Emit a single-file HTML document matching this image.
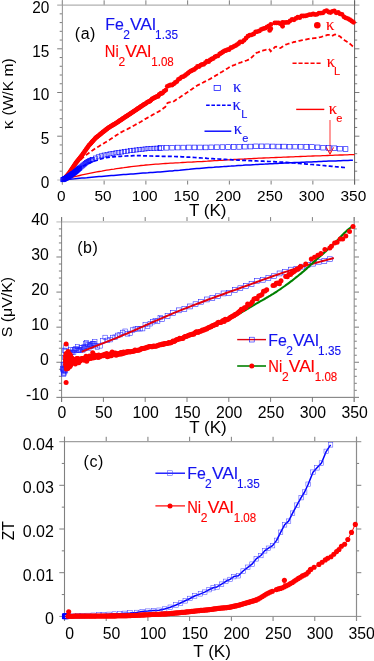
<!DOCTYPE html>
<html><head><meta charset="utf-8"><title>figure</title>
<style>
html,body{margin:0;padding:0;background:#fff;}
svg{display:block;will-change:transform}
text{font-family:"Liberation Sans",sans-serif;}
.ser{font-family:"Liberation Serif",serif;}
</style></head><body>
<svg width="374" height="661" viewBox="0 0 374 661">
<rect width="374" height="661" fill="#fff"/>
<path d="M62.40 179.9v4.6M62.40 5.1v-4.8M104.14 179.9v4.6M104.14 5.1v-4.8M145.89 179.9v4.6M145.89 5.1v-4.8M187.63 179.9v4.6M187.63 5.1v-4.8M229.37 179.9v4.6M229.37 5.1v-4.8M271.11 179.9v4.6M271.11 5.1v-4.8M312.86 179.9v4.6M312.86 5.1v-4.8M354.60 179.9v4.6M354.60 5.1v-4.8M62.4 136.20h-5.2M354.6 136.20h4.8M62.4 92.50h-5.2M354.6 92.50h4.8M62.4 48.80h-5.2M354.6 48.80h4.8M62.4 171.16h-2.7M354.6 171.16h2.6M62.4 162.42h-2.7M354.6 162.42h2.6M62.4 153.68h-2.7M354.6 153.68h2.6M62.4 144.94h-2.7M354.6 144.94h2.6M62.4 127.46h-2.7M354.6 127.46h2.6M62.4 118.72h-2.7M354.6 118.72h2.6M62.4 109.98h-2.7M354.6 109.98h2.6M62.4 101.24h-2.7M354.6 101.24h2.6M62.4 83.76h-2.7M354.6 83.76h2.6M62.4 75.02h-2.7M354.6 75.02h2.6M62.4 66.28h-2.7M354.6 66.28h2.6M62.4 57.54h-2.7M354.6 57.54h2.6M62.4 40.06h-2.7M354.6 40.06h2.6M62.4 31.32h-2.7M354.6 31.32h2.6M62.4 22.58h-2.7M354.6 22.58h2.6M62.4 13.84h-2.7M354.6 13.84h2.6" fill="none" stroke="#5a5a5a" stroke-width="0.8"/>
<path d="M57.199999999999996 5.1H359.40000000000003" fill="none" stroke="#b0b0b0" stroke-width="1.3"/>
<path d="M57.199999999999996 179.9H359.40000000000003" fill="none" stroke="#d2d2d2" stroke-width="1.5"/>
<path d="M62.4 0.2999999999999998V184.5" fill="none" stroke="#9a9a9a" stroke-width="1.1"/>
<path d="M354.6 0.2999999999999998V184.5" fill="none" stroke="#606060" stroke-width="1.0"/>
<path d="M62.4 179.9 L64.9 179.3 L67.3 178.6 L69.8 178.0 L72.2 177.4 L74.7 176.7 L77.1 176.1 L79.6 175.5 L82.0 174.9 L84.5 174.4 L87.0 173.9 L89.4 173.4 L91.9 172.9 L94.3 172.4 L96.8 171.9 L99.2 171.5 L101.7 171.1 L104.1 170.6 L106.6 170.2 L109.1 169.8 L111.5 169.4 L114.0 169.1 L116.4 168.7 L118.9 168.3 L121.3 168.0 L123.8 167.7 L126.2 167.3 L128.7 167.0 L131.2 166.7 L133.6 166.4 L136.1 166.1 L138.5 165.8 L141.0 165.5 L143.4 165.3 L145.9 165.0 L148.3 164.8 L150.8 164.6 L153.3 164.4 L155.7 164.2 L158.2 164.1 L160.6 163.9 L163.1 163.7 L165.5 163.5 L168.0 163.4 L170.4 163.2 L172.9 163.1 L175.4 162.9 L177.8 162.8 L180.3 162.7 L182.7 162.5 L185.2 162.4 L187.6 162.2 L190.1 162.1 L192.5 162.0 L195.0 161.8 L197.5 161.7 L199.9 161.6 L202.4 161.5 L204.8 161.3 L207.3 161.2 L209.7 161.0 L212.2 160.9 L214.6 160.7 L217.1 160.6 L219.5 160.4 L222.0 160.3 L224.5 160.1 L226.9 159.9 L229.4 159.8 L231.8 159.7 L234.3 159.5 L236.7 159.4 L239.2 159.2 L241.6 159.1 L244.1 159.0 L246.6 158.8 L249.0 158.7 L251.5 158.6 L253.9 158.5 L256.4 158.4 L258.8 158.2 L261.3 158.1 L263.7 158.0 L266.2 157.9 L268.7 157.8 L271.1 157.7 L273.6 157.6 L276.0 157.5 L278.5 157.4 L280.9 157.3 L283.4 157.2 L285.8 157.1 L288.3 157.0 L290.8 156.9 L293.2 156.8 L295.7 156.7 L298.1 156.6 L300.6 156.5 L303.0 156.4 L305.5 156.3 L307.9 156.2 L310.4 156.1 L312.9 156.0 L315.3 155.9 L317.8 155.9 L320.2 155.8 L322.7 155.7 L325.1 155.6 L327.6 155.5 L330.0 155.4 L332.5 155.3 L335.0 155.2 L337.4 155.1 L339.9 155.0 L342.3 155.0 L344.8 154.9 L347.2 154.8 L349.7 154.7 L352.1 154.6 L354.6 154.6" fill="none" stroke="#ff0000" stroke-width="1.3"/>
<path d="M62.4 179.9 L64.8 179.7 L67.3 179.4 L69.7 179.2 L72.2 179.0 L74.6 178.8 L77.0 178.5 L79.5 178.3 L81.9 178.1 L84.4 177.9 L86.8 177.7 L89.3 177.4 L91.7 177.2 L94.1 177.0 L96.6 176.8 L99.0 176.6 L101.5 176.4 L103.9 176.2 L106.3 176.0 L108.8 175.8 L111.2 175.6 L113.7 175.4 L116.1 175.2 L118.6 175.0 L121.0 174.8 L123.4 174.6 L125.9 174.4 L128.3 174.2 L130.8 174.0 L133.2 173.9 L135.6 173.7 L138.1 173.5 L140.5 173.3 L143.0 173.1 L145.4 172.9 L147.9 172.8 L150.3 172.6 L152.7 172.4 L155.2 172.2 L157.6 172.0 L160.1 171.9 L162.5 171.7 L164.9 171.5 L167.4 171.3 L169.8 171.1 L172.3 170.9 L174.7 170.6 L177.1 170.4 L179.6 170.2 L182.0 169.9 L184.5 169.7 L186.9 169.5 L189.4 169.3 L191.8 169.0 L194.2 168.8 L196.7 168.6 L199.1 168.4 L201.6 168.2 L204.0 168.0 L206.4 167.8 L208.9 167.6 L211.3 167.4 L213.8 167.3 L216.2 167.1 L218.7 166.9 L221.1 166.7 L223.5 166.6 L226.0 166.4 L228.4 166.2 L230.9 166.1 L233.3 165.9 L235.7 165.8 L238.2 165.6 L240.6 165.4 L243.1 165.3 L245.5 165.1 L247.9 165.0 L250.4 164.9 L252.8 164.7 L255.3 164.6 L257.7 164.4 L260.2 164.3 L262.6 164.2 L265.0 164.1 L267.5 163.9 L269.9 163.8 L272.4 163.7 L274.8 163.5 L277.2 163.4 L279.7 163.3 L282.1 163.2 L284.6 163.0 L287.0 162.9 L289.5 162.8 L291.9 162.7 L294.3 162.6 L296.8 162.5 L299.2 162.4 L301.7 162.3 L304.1 162.2 L306.5 162.1 L309.0 162.0 L311.4 161.9 L313.9 161.8 L316.3 161.7 L318.8 161.6 L321.2 161.5 L323.6 161.3 L326.1 161.2 L328.5 161.1 L331.0 161.0 L333.4 160.9 L335.8 160.9 L338.3 160.8 L340.7 160.7 L343.2 160.6 L345.6 160.5 L348.0 160.4 L350.5 160.3 L352.9 160.2" fill="none" stroke="#0000ff" stroke-width="1.5"/>
<path d="M77.4 169.4 L79.2 168.3 L81.0 167.2 L82.8 166.1 L84.6 165.2 L86.4 164.4 L88.3 163.5 L90.1 162.8 L91.9 162.0 L93.7 161.4 L95.5 160.8 L97.3 160.2 L99.1 159.6 L100.9 159.0 L102.7 158.5 L104.5 158.1 L106.3 157.7 L108.1 157.4 L109.9 157.1 L111.7 156.9 L113.5 156.8 L115.3 156.6 L117.1 156.5 L118.9 156.4 L120.7 156.3 L122.5 156.2 L124.3 156.1 L126.1 156.0 L127.9 155.9 L129.7 155.8 L131.6 155.8 L133.4 155.7 L135.2 155.7 L137.0 155.7 L138.8 155.7 L140.6 155.7 L142.4 155.8 L144.2 155.8 L146.0 155.9 L147.8 155.9 L149.6 156.0 L151.4 156.0 L153.2 156.1 L155.0 156.1 L156.8 156.2 L158.6 156.2 L160.4 156.2 L162.2 156.3 L164.0 156.3 L165.8 156.3 L167.6 156.4 L169.4 156.4 L171.2 156.4 L173.0 156.5 L174.9 156.5 L176.7 156.6 L178.5 156.6 L180.3 156.7 L182.1 156.8 L183.9 156.9 L185.7 157.0 L187.5 157.1 L189.3 157.2 L191.1 157.3 L192.9 157.4 L194.7 157.5 L196.5 157.7 L198.3 157.8 L200.1 157.9 L201.9 158.0 L203.7 158.1 L205.5 158.2 L207.3 158.4 L209.1 158.5 L210.9 158.6 L212.7 158.7 L214.5 158.8 L216.3 158.9 L218.2 159.0 L220.0 159.1 L221.8 159.2 L223.6 159.3 L225.4 159.4 L227.2 159.5 L229.0 159.6 L230.8 159.7 L232.6 159.8 L234.4 159.9 L236.2 160.0 L238.0 160.1 L239.8 160.2 L241.6 160.3 L243.4 160.3 L245.2 160.4 L247.0 160.5 L248.8 160.6 L250.6 160.7 L252.4 160.8 L254.2 160.9 L256.0 160.9 L257.8 161.0 L259.7 161.1 L261.5 161.2 L263.3 161.2 L265.1 161.3 L266.9 161.4 L268.7 161.5 L270.5 161.5 L272.3 161.6 L274.1 161.7 L275.9 161.8 L277.7 161.9 L279.5 162.0 L281.3 162.1 L283.1 162.2 L284.9 162.3 L286.7 162.4 L288.5 162.6 L290.3 162.7 L292.1 162.9 L293.9 163.0 L295.7 163.1 L297.5 163.3 L299.3 163.4 L301.1 163.6 L303.0 163.8 L304.8 163.9 L306.6 164.1 L308.4 164.2 L310.2 164.4 L312.0 164.5 L313.8 164.7 L315.6 164.8 L317.4 165.0 L319.2 165.2 L321.0 165.3 L322.8 165.5 L324.6 165.6 L326.4 165.8 L328.2 166.0 L330.0 166.1 L331.8 166.3 L333.6 166.5 L335.4 166.7 L337.2 166.8 L339.0 167.0 L340.8 167.2 L342.6 167.3 L344.4 167.5 L346.3 167.7" fill="none" stroke="#0000ff" stroke-width="1.7" stroke-dasharray="4.0 2.2"/>
<path d="M80.8 159.8 L81.8 158.7 L82.9 157.7 L83.9 156.6 L85.0 155.7 L86.0 155.0 L87.1 154.2 L88.2 153.5 L89.2 152.7 L90.3 152.0 L91.3 151.2 L92.4 150.5 L93.4 149.7 L94.5 149.0 L95.5 148.2 L96.6 147.6 L97.7 147.0 L98.7 146.4 L99.8 145.7 L100.8 145.1 L101.9 144.5 L102.9 143.9 L104.0 143.2 L105.0 142.6 L106.1 141.9 L107.2 141.2 L108.2 140.6 L109.3 139.9 L110.3 139.3 L111.4 138.6 L112.4 137.9 L113.5 137.2 L114.5 136.5 L115.6 135.8 L116.6 135.1 L117.7 134.4 L118.8 133.7 L119.8 133.0 L120.9 132.4 L121.9 131.9 L123.0 131.3 L124.0 130.8 L125.1 130.3 L126.1 129.7 L127.2 129.2 L128.3 128.6 L129.3 128.1 L130.4 127.5 L131.4 127.0 L132.5 126.4 L133.5 125.8 L134.6 125.2 L135.6 124.6 L136.7 124.0 L137.8 123.4 L138.8 122.9 L139.9 122.3 L140.9 121.7 L142.0 121.0 L143.0 120.4 L144.1 119.8 L145.1 119.1 L146.2 118.5 L147.3 117.9 L148.3 117.2 L149.4 116.6 L150.4 116.0 L151.5 115.5 L152.5 114.9 L153.6 114.3 L154.6 113.7 L155.7 113.1 L156.8 112.5 L157.8 112.0 L158.9 111.4 L159.9 110.8 L161.0 110.1 L162.0 109.3 L163.1 108.5 L164.1 107.8 L165.2 107.1 L166.2 105.6 L167.3 103.2 L168.4 102.5 L169.4 102.3 L170.5 102.2 L171.5 102.1 L172.6 102.0 L173.6 101.5 L174.7 100.8 L175.7 100.0 L176.8 99.3 L177.9 98.6 L178.9 97.9 L180.0 97.2 L181.0 96.5 L182.1 95.8 L183.1 95.1 L184.2 94.4 L185.2 93.7 L186.3 93.0 L187.4 92.3 L188.4 91.6 L189.5 90.9 L190.5 90.1 L191.6 89.4 L192.6 88.6 L193.7 87.9 L194.7 87.1 L195.8 86.4 L196.9 85.7 L197.9 85.1 L199.0 84.6 L200.0 84.0 L201.1 83.5 L202.1 83.0 L203.2 82.5 L204.2 81.9 L205.3 81.4 L206.4 80.8 L207.4 80.3 L208.5 79.7 L209.5 79.2 L210.6 78.6 L211.6 78.0 L212.7 77.4 L213.7 76.7 L214.8 76.1 L215.8 75.5 L216.9 74.9 L218.0 74.2 L219.0 73.6 L220.1 73.0 L221.1 72.3 L222.2 71.7 L223.2 71.1 L224.3 70.4 L225.3 69.8 L226.4 69.1 L227.5 68.4 L228.5 67.8 L229.6 67.1 L230.6 66.5 L231.7 66.1 L232.7 65.6 L233.8 65.2 L234.8 64.8 L235.9 64.3 L237.0 63.9 L238.0 63.4 L239.1 63.0 L240.1 62.6 L241.2 62.3 L242.2 61.9 L243.3 61.6 L244.3 61.2 L245.4 60.8 L246.5 60.5 L247.5 60.1 L248.6 59.7 L249.6 59.4 L250.7 58.4 L251.7 57.4 L252.8 56.3 L253.8 55.3 L254.9 54.3 L256.0 53.2 L257.0 52.6 L258.1 52.3 L259.1 51.9 L260.2 51.5 L261.2 51.1 L262.3 50.8 L263.3 50.4 L264.4 50.1 L265.5 49.8 L266.5 49.5 L267.6 49.2 L268.6 48.8 L269.7 49.7 L270.7 51.3 L271.8 50.2 L272.8 49.2 L273.9 48.1 L274.9 47.0 L276.0 46.7 L277.1 47.0 L278.1 47.4 L279.2 47.7 L280.2 48.1 L281.3 47.4 L282.3 46.7 L283.4 46.0 L284.4 45.3 L285.5 44.7 L286.6 44.4 L287.6 44.0 L288.7 43.7 L289.7 43.3 L290.8 42.9 L291.8 42.6 L292.9 42.3 L293.9 42.0 L295.0 41.8 L296.1 41.5 L297.1 41.2 L298.2 41.0 L299.2 40.8 L300.3 40.6 L301.3 40.4 L302.4 40.2 L303.4 40.0 L304.5 39.8 L305.6 39.6 L306.6 39.3 L307.7 39.1 L308.7 38.9 L309.8 38.7 L310.8 38.5 L311.9 38.4 L312.9 38.3 L314.0 38.2 L315.1 38.1 L316.1 38.0 L317.2 37.9 L318.2 37.6 L319.3 37.3 L320.3 37.1 L321.4 36.8 L322.4 36.5 L323.5 36.2 L324.5 35.9 L325.6 35.6 L326.7 35.2 L327.7 34.9 L328.8 34.8 L329.8 35.3 L330.9 35.8 L331.9 36.0 L333.0 35.4 L334.0 34.8 L335.1 34.4 L336.2 34.8 L337.2 35.2 L338.3 35.7 L339.3 36.1 L340.4 36.8 L341.4 37.7 L342.5 38.5 L343.5 39.4 L344.6 40.2 L345.7 40.9 L346.7 41.6 L347.8 42.3 L348.8 43.0 L349.9 43.8 L350.9 44.7 L352.0 45.7 L353.0 46.6 L354.1 47.5" fill="none" stroke="#ff0000" stroke-width="1.8" stroke-dasharray="4.4 2.5"/>
<g fill="#ff0000"><circle cx="64.9" cy="178.1" r="2.4"/><circle cx="65.9" cy="177.0" r="2.4"/><circle cx="66.9" cy="175.8" r="2.4"/><circle cx="67.9" cy="174.6" r="2.4"/><circle cx="68.9" cy="173.4" r="2.4"/><circle cx="69.9" cy="172.0" r="2.4"/><circle cx="70.9" cy="170.5" r="2.4"/><circle cx="71.9" cy="169.0" r="2.4"/><circle cx="72.9" cy="167.5" r="2.4"/><circle cx="73.9" cy="166.0" r="2.4"/><circle cx="74.9" cy="164.5" r="2.4"/><circle cx="75.9" cy="163.0" r="2.4"/><circle cx="76.9" cy="161.7" r="2.4"/><circle cx="77.9" cy="160.5" r="2.4"/><circle cx="78.9" cy="159.2" r="2.4"/><circle cx="79.9" cy="158.0" r="2.4"/><circle cx="80.9" cy="156.7" r="2.4"/><circle cx="81.9" cy="155.4" r="2.4"/><circle cx="82.9" cy="154.0" r="2.4"/><circle cx="83.9" cy="152.6" r="2.4"/><circle cx="84.9" cy="151.1" r="2.4"/><circle cx="85.9" cy="149.7" r="2.4"/><circle cx="86.9" cy="148.3" r="2.4"/><circle cx="87.9" cy="146.8" r="2.4"/><circle cx="88.9" cy="145.4" r="2.4"/><circle cx="90.0" cy="144.3" r="2.4"/><circle cx="91.0" cy="143.2" r="2.4"/><circle cx="92.0" cy="142.0" r="2.4"/><circle cx="93.0" cy="140.9" r="2.4"/><circle cx="94.0" cy="139.8" r="2.4"/><circle cx="95.0" cy="138.7" r="2.4"/><circle cx="96.0" cy="137.7" r="2.4"/><circle cx="97.0" cy="136.9" r="2.4"/><circle cx="98.0" cy="136.1" r="2.4"/><circle cx="99.0" cy="135.3" r="2.4"/><circle cx="100.0" cy="134.5" r="2.4"/><circle cx="101.0" cy="133.7" r="2.4"/><circle cx="102.0" cy="132.8" r="2.4"/><circle cx="103.0" cy="132.0" r="2.4"/><circle cx="104.0" cy="131.3" r="2.4"/><circle cx="105.0" cy="130.5" r="2.4"/><circle cx="106.0" cy="129.7" r="2.4"/><circle cx="107.0" cy="128.9" r="2.4"/><circle cx="108.0" cy="128.1" r="2.4"/><circle cx="109.0" cy="127.4" r="2.4"/><circle cx="110.0" cy="126.8" r="2.4"/><circle cx="111.0" cy="126.2" r="2.4"/><circle cx="112.0" cy="125.6" r="2.4"/><circle cx="113.0" cy="125.0" r="2.4"/><circle cx="114.0" cy="124.4" r="2.4"/><circle cx="115.0" cy="123.8" r="2.4"/><circle cx="116.0" cy="123.2" r="2.4"/><circle cx="117.0" cy="122.6" r="2.4"/><circle cx="118.0" cy="121.9" r="2.4"/><circle cx="119.0" cy="121.2" r="2.4"/><circle cx="120.0" cy="120.5" r="2.4"/><circle cx="121.0" cy="119.9" r="2.4"/><circle cx="122.0" cy="119.2" r="2.4"/><circle cx="123.0" cy="118.5" r="2.4"/><circle cx="124.0" cy="117.8" r="2.4"/><circle cx="125.0" cy="117.2" r="2.4"/><circle cx="126.0" cy="116.5" r="2.4"/><circle cx="127.0" cy="115.9" r="2.4"/><circle cx="128.0" cy="115.2" r="2.4"/><circle cx="129.0" cy="114.6" r="2.4"/><circle cx="130.0" cy="113.9" r="2.4"/><circle cx="131.0" cy="113.2" r="2.4"/><circle cx="132.0" cy="112.6" r="2.4"/><circle cx="133.0" cy="111.9" r="2.4"/><circle cx="134.0" cy="111.2" r="2.4"/><circle cx="135.0" cy="110.6" r="2.4"/><circle cx="136.0" cy="109.9" r="2.4"/><circle cx="137.0" cy="109.2" r="2.4"/><circle cx="138.0" cy="108.5" r="2.4"/><circle cx="139.0" cy="107.9" r="2.4"/><circle cx="140.0" cy="107.2" r="2.4"/><circle cx="141.0" cy="106.5" r="2.4"/><circle cx="142.0" cy="105.8" r="2.4"/><circle cx="143.0" cy="105.2" r="2.4"/><circle cx="144.0" cy="104.5" r="2.4"/><circle cx="145.1" cy="103.8" r="2.4"/><circle cx="146.1" cy="103.3" r="2.4"/><circle cx="147.1" cy="102.3" r="2.4"/><circle cx="148.1" cy="101.9" r="2.4"/><circle cx="149.1" cy="101.4" r="2.4"/><circle cx="150.1" cy="101.0" r="2.4"/><circle cx="151.1" cy="100.1" r="2.4"/><circle cx="152.1" cy="98.9" r="2.4"/><circle cx="153.1" cy="98.6" r="2.4"/><circle cx="154.1" cy="97.8" r="2.4"/><circle cx="155.1" cy="97.5" r="2.4"/><circle cx="156.1" cy="96.8" r="2.4"/><circle cx="157.1" cy="96.3" r="2.4"/><circle cx="158.1" cy="96.4" r="2.4"/><circle cx="159.1" cy="94.6" r="2.4"/><circle cx="160.1" cy="94.1" r="2.4"/><circle cx="161.1" cy="93.2" r="2.4"/><circle cx="162.1" cy="93.3" r="2.4"/><circle cx="162.6" cy="92.8" r="2.4"/><circle cx="164.2" cy="91.2" r="2.4"/><circle cx="165.8" cy="90.1" r="2.4"/><circle cx="167.3" cy="86.3" r="2.4"/><circle cx="168.9" cy="85.6" r="2.4"/><circle cx="170.5" cy="85.0" r="2.4"/><circle cx="172.1" cy="85.1" r="2.4"/><circle cx="173.7" cy="83.9" r="2.4"/><circle cx="175.3" cy="82.5" r="2.4"/><circle cx="176.9" cy="81.6" r="2.4"/><circle cx="178.4" cy="79.3" r="2.4"/><circle cx="180.0" cy="78.6" r="2.4"/><circle cx="181.6" cy="77.1" r="2.4"/><circle cx="183.2" cy="76.7" r="2.4"/><circle cx="184.8" cy="75.7" r="2.4"/><circle cx="186.4" cy="74.4" r="2.4"/><circle cx="188.0" cy="73.2" r="2.4"/><circle cx="189.5" cy="71.8" r="2.4"/><circle cx="191.1" cy="70.9" r="2.4"/><circle cx="192.7" cy="70.2" r="2.4"/><circle cx="194.3" cy="69.4" r="2.4"/><circle cx="195.9" cy="68.1" r="2.4"/><circle cx="197.5" cy="66.4" r="2.4"/><circle cx="199.1" cy="66.5" r="2.4"/><circle cx="200.7" cy="65.2" r="2.4"/><circle cx="202.2" cy="64.3" r="2.4"/><circle cx="203.8" cy="64.3" r="2.4"/><circle cx="205.4" cy="62.7" r="2.4"/><circle cx="207.0" cy="61.2" r="2.4"/><circle cx="208.6" cy="61.7" r="2.4"/><circle cx="210.2" cy="60.0" r="2.4"/><circle cx="211.8" cy="59.0" r="2.4"/><circle cx="213.3" cy="58.4" r="2.4"/><circle cx="214.9" cy="56.9" r="2.4"/><circle cx="216.5" cy="56.2" r="2.4"/><circle cx="218.1" cy="55.8" r="2.4"/><circle cx="219.7" cy="53.9" r="2.4"/><circle cx="221.3" cy="53.0" r="2.4"/><circle cx="222.9" cy="52.0" r="2.4"/><circle cx="224.4" cy="50.9" r="2.4"/><circle cx="226.0" cy="50.5" r="2.4"/><circle cx="227.6" cy="49.7" r="2.4"/><circle cx="229.2" cy="49.5" r="2.4"/><circle cx="230.8" cy="47.7" r="2.4"/><circle cx="232.4" cy="47.3" r="2.4"/><circle cx="234.0" cy="46.3" r="2.4"/><circle cx="235.5" cy="45.7" r="2.4"/><circle cx="237.1" cy="44.6" r="2.4"/><circle cx="238.7" cy="43.5" r="2.4"/><circle cx="240.2" cy="41.8" r="2.4"/><circle cx="242.1" cy="41.9" r="2.4"/><circle cx="244.1" cy="40.3" r="2.4"/><circle cx="246.0" cy="38.2" r="2.4"/><circle cx="247.9" cy="36.2" r="2.4"/><circle cx="249.8" cy="35.2" r="2.4"/><circle cx="251.7" cy="34.8" r="2.4"/><circle cx="253.7" cy="33.9" r="2.4"/><circle cx="255.6" cy="31.9" r="2.4"/><circle cx="257.5" cy="31.6" r="2.4"/><circle cx="259.4" cy="30.9" r="2.4"/><circle cx="261.3" cy="29.4" r="2.4"/><circle cx="263.3" cy="28.7" r="2.4"/><circle cx="265.2" cy="28.2" r="2.4"/><circle cx="267.1" cy="27.0" r="2.4"/><circle cx="269.0" cy="25.9" r="2.4"/><circle cx="270.9" cy="24.4" r="2.4"/><circle cx="274.8" cy="22.9" r="2.4"/><circle cx="276.7" cy="22.9" r="2.4"/><circle cx="278.6" cy="22.9" r="2.4"/><circle cx="280.5" cy="23.8" r="2.4"/><circle cx="282.5" cy="22.5" r="2.4"/><circle cx="284.4" cy="22.7" r="2.4"/><circle cx="286.3" cy="22.3" r="2.4"/><circle cx="288.2" cy="22.4" r="2.4"/><circle cx="290.1" cy="20.8" r="2.4"/><circle cx="292.1" cy="19.3" r="2.4"/><circle cx="294.0" cy="19.8" r="2.4"/><circle cx="295.9" cy="18.4" r="2.4"/><circle cx="297.8" cy="17.2" r="2.4"/><circle cx="299.7" cy="17.7" r="2.4"/><circle cx="301.7" cy="16.0" r="2.4"/><circle cx="303.6" cy="16.0" r="2.4"/><circle cx="305.5" cy="15.9" r="2.4"/><circle cx="307.4" cy="15.3" r="2.4"/><circle cx="309.4" cy="14.7" r="2.4"/><circle cx="311.3" cy="14.6" r="2.4"/><circle cx="313.2" cy="14.0" r="2.4"/><circle cx="315.1" cy="14.6" r="2.4"/><circle cx="317.0" cy="14.3" r="2.4"/><circle cx="319.0" cy="13.2" r="2.4"/><circle cx="320.9" cy="13.1" r="2.4"/><circle cx="322.8" cy="12.9" r="2.4"/><circle cx="324.7" cy="11.3" r="2.4"/><circle cx="326.6" cy="10.7" r="2.4"/><circle cx="328.6" cy="12.0" r="2.4"/><circle cx="330.5" cy="12.6" r="2.4"/><circle cx="332.4" cy="11.3" r="2.4"/><circle cx="334.3" cy="11.0" r="2.4"/><circle cx="336.2" cy="12.8" r="2.4"/><circle cx="338.2" cy="12.5" r="2.4"/><circle cx="340.1" cy="13.9" r="2.4"/><circle cx="342.0" cy="14.3" r="2.4"/><circle cx="343.9" cy="16.8" r="2.4"/><circle cx="345.8" cy="17.9" r="2.4"/><circle cx="347.8" cy="18.6" r="2.4"/><circle cx="349.7" cy="19.7" r="2.4"/><circle cx="351.6" cy="21.0" r="2.4"/><circle cx="353.5" cy="22.3" r="2.4"/><circle cx="269.7" cy="30.4" r="2.4"/><circle cx="282.6" cy="26.3" r="2.4"/><circle cx="270.8" cy="28.7" r="2.4"/></g>
<g fill="none" stroke="#0000ff" stroke-width="0.6"><rect x="60.8" y="177.7" width="4.1" height="4.1"/><rect x="61.1" y="177.5" width="4.1" height="4.1"/><rect x="61.5" y="177.4" width="4.1" height="4.1"/><rect x="61.9" y="177.2" width="4.1" height="4.1"/><rect x="62.3" y="177.0" width="4.1" height="4.1"/><rect x="62.6" y="176.8" width="4.1" height="4.1"/><rect x="63.0" y="176.6" width="4.1" height="4.1"/><rect x="63.4" y="176.4" width="4.1" height="4.1"/><rect x="63.8" y="176.2" width="4.1" height="4.1"/><rect x="64.1" y="176.0" width="4.1" height="4.1"/><rect x="64.5" y="175.8" width="4.1" height="4.1"/><rect x="64.9" y="175.5" width="4.1" height="4.1"/><rect x="65.3" y="175.3" width="4.1" height="4.1"/><rect x="65.7" y="175.1" width="4.1" height="4.1"/><rect x="66.0" y="174.8" width="4.1" height="4.1"/><rect x="66.4" y="174.6" width="4.1" height="4.1"/><rect x="66.8" y="174.3" width="4.1" height="4.1"/><rect x="67.2" y="174.1" width="4.1" height="4.1"/><rect x="67.5" y="173.8" width="4.1" height="4.1"/><rect x="67.9" y="173.6" width="4.1" height="4.1"/><rect x="68.3" y="173.3" width="4.1" height="4.1"/><rect x="68.7" y="173.1" width="4.1" height="4.1"/><rect x="69.0" y="172.8" width="4.1" height="4.1"/><rect x="69.4" y="172.6" width="4.1" height="4.1"/><rect x="69.8" y="172.3" width="4.1" height="4.1"/><rect x="70.2" y="172.1" width="4.1" height="4.1"/><rect x="70.5" y="171.8" width="4.1" height="4.1"/><rect x="70.9" y="171.6" width="4.1" height="4.1"/><rect x="71.3" y="171.3" width="4.1" height="4.1"/><rect x="71.7" y="171.0" width="4.1" height="4.1"/><rect x="72.0" y="170.8" width="4.1" height="4.1"/><rect x="72.4" y="170.5" width="4.1" height="4.1"/><rect x="72.8" y="170.2" width="4.1" height="4.1"/><rect x="73.2" y="169.9" width="4.1" height="4.1"/><rect x="73.5" y="169.6" width="4.1" height="4.1"/><rect x="73.9" y="169.3" width="4.1" height="4.1"/><rect x="74.3" y="169.0" width="4.1" height="4.1"/><rect x="74.7" y="168.7" width="4.1" height="4.1"/><rect x="75.0" y="168.3" width="4.1" height="4.1"/><rect x="75.4" y="168.0" width="4.1" height="4.1"/><rect x="75.8" y="167.7" width="4.1" height="4.1"/><rect x="76.2" y="167.3" width="4.1" height="4.1"/><rect x="76.5" y="167.0" width="4.1" height="4.1"/><rect x="76.9" y="166.6" width="4.1" height="4.1"/><rect x="77.3" y="166.3" width="4.1" height="4.1"/><rect x="77.7" y="165.9" width="4.1" height="4.1"/><rect x="77.9" y="165.8" width="4.1" height="4.1"/><rect x="79.0" y="164.8" width="4.1" height="4.1"/><rect x="80.1" y="163.9" width="4.1" height="4.1"/><rect x="81.1" y="163.0" width="4.1" height="4.1"/><rect x="82.2" y="162.1" width="4.1" height="4.1"/><rect x="83.3" y="161.3" width="4.1" height="4.1"/><rect x="84.4" y="160.5" width="4.1" height="4.1"/><rect x="85.5" y="159.9" width="4.1" height="4.1"/><rect x="86.6" y="159.3" width="4.1" height="4.1"/><rect x="87.6" y="158.7" width="4.1" height="4.1"/><rect x="88.7" y="158.2" width="4.1" height="4.1"/><rect x="89.8" y="157.7" width="4.1" height="4.1"/><rect x="90.4" y="157.4" width="4.1" height="4.1"/><rect x="93.3" y="156.0" width="4.1" height="4.1"/><rect x="96.2" y="154.8" width="4.1" height="4.1"/><rect x="99.2" y="153.8" width="4.1" height="4.1"/><rect x="102.1" y="153.0" width="4.1" height="4.1"/><rect x="105.0" y="152.3" width="4.1" height="4.1"/><rect x="107.9" y="151.8" width="4.1" height="4.1"/><rect x="110.9" y="151.3" width="4.1" height="4.1"/><rect x="113.8" y="150.8" width="4.1" height="4.1"/><rect x="116.7" y="150.4" width="4.1" height="4.1"/><rect x="119.6" y="150.0" width="4.1" height="4.1"/><rect x="122.5" y="149.5" width="4.1" height="4.1"/><rect x="125.5" y="149.1" width="4.1" height="4.1"/><rect x="128.4" y="148.6" width="4.1" height="4.1"/><rect x="131.3" y="148.2" width="4.1" height="4.1"/><rect x="134.2" y="147.9" width="4.1" height="4.1"/><rect x="137.2" y="147.5" width="4.1" height="4.1"/><rect x="140.1" y="147.2" width="4.1" height="4.1"/><rect x="143.0" y="146.9" width="4.1" height="4.1"/><rect x="145.9" y="146.6" width="4.1" height="4.1"/><rect x="148.8" y="146.4" width="4.1" height="4.1"/><rect x="151.8" y="146.2" width="4.1" height="4.1"/><rect x="154.7" y="146.1" width="4.1" height="4.1"/><rect x="157.6" y="146.0" width="4.1" height="4.1"/></g>
<g fill="none" stroke="#0000ff" stroke-width="0.6"><rect x="158.6" y="145.6" width="4.7" height="4.7"/><rect x="164.2" y="145.4" width="4.7" height="4.7"/><rect x="169.8" y="145.3" width="4.7" height="4.7"/><rect x="175.3" y="145.2" width="4.7" height="4.7"/><rect x="180.9" y="145.2" width="4.7" height="4.7"/><rect x="186.5" y="145.1" width="4.7" height="4.7"/><rect x="192.1" y="145.1" width="4.7" height="4.7"/><rect x="197.7" y="145.1" width="4.7" height="4.7"/><rect x="203.3" y="145.1" width="4.7" height="4.7"/><rect x="208.9" y="145.0" width="4.7" height="4.7"/><rect x="214.5" y="144.9" width="4.7" height="4.7"/><rect x="220.1" y="144.8" width="4.7" height="4.7"/><rect x="225.7" y="144.7" width="4.7" height="4.7"/><rect x="231.3" y="144.6" width="4.7" height="4.7"/><rect x="236.9" y="144.5" width="4.7" height="4.7"/><rect x="242.5" y="144.3" width="4.7" height="4.7"/><rect x="248.1" y="144.2" width="4.7" height="4.7"/><rect x="253.7" y="144.0" width="4.7" height="4.7"/><rect x="259.2" y="144.0" width="4.7" height="4.7"/><rect x="264.8" y="144.0" width="4.7" height="4.7"/><rect x="270.4" y="144.1" width="4.7" height="4.7"/><rect x="276.0" y="144.2" width="4.7" height="4.7"/><rect x="281.6" y="144.2" width="4.7" height="4.7"/><rect x="287.2" y="144.3" width="4.7" height="4.7"/><rect x="292.8" y="144.3" width="4.7" height="4.7"/><rect x="298.4" y="144.4" width="4.7" height="4.7"/><rect x="304.0" y="144.6" width="4.7" height="4.7"/><rect x="309.6" y="144.7" width="4.7" height="4.7"/><rect x="315.2" y="145.0" width="4.7" height="4.7"/><rect x="320.8" y="145.3" width="4.7" height="4.7"/><rect x="326.4" y="145.6" width="4.7" height="4.7"/><rect x="332.0" y="145.9" width="4.7" height="4.7"/><rect x="337.6" y="146.3" width="4.7" height="4.7"/><rect x="343.2" y="146.7" width="4.7" height="4.7"/></g>
<text transform="translate(49.30 187.70) scale(1 1.07)" font-size="15.4" fill="#000" stroke="#000" stroke-width="0" text-anchor="end" >0</text>
<text transform="translate(49.30 144.00) scale(1 1.07)" font-size="15.4" fill="#000" stroke="#000" stroke-width="0" text-anchor="end" >5</text>
<text transform="translate(49.30 100.30) scale(1 1.07)" font-size="15.4" fill="#000" stroke="#000" stroke-width="0" text-anchor="end" >10</text>
<text transform="translate(49.30 56.60) scale(1 1.07)" font-size="15.4" fill="#000" stroke="#000" stroke-width="0" text-anchor="end" >15</text>
<text transform="translate(49.30 12.90) scale(1 1.07)" font-size="15.4" fill="#000" stroke="#000" stroke-width="0" text-anchor="end" >20</text>
<text transform="translate(61.20 201.00) scale(1 1.0)" font-size="15.4" fill="#000" stroke="#000" stroke-width="0" text-anchor="middle" >0</text>
<text transform="translate(102.94 201.00) scale(1 1.0)" font-size="15.4" fill="#000" stroke="#000" stroke-width="0" text-anchor="middle" >50</text>
<text transform="translate(144.69 201.00) scale(1 1.0)" font-size="15.4" fill="#000" stroke="#000" stroke-width="0" text-anchor="middle" >100</text>
<text transform="translate(186.43 201.00) scale(1 1.0)" font-size="15.4" fill="#000" stroke="#000" stroke-width="0" text-anchor="middle" >150</text>
<text transform="translate(228.17 201.00) scale(1 1.0)" font-size="15.4" fill="#000" stroke="#000" stroke-width="0" text-anchor="middle" >200</text>
<text transform="translate(269.91 201.00) scale(1 1.0)" font-size="15.4" fill="#000" stroke="#000" stroke-width="0" text-anchor="middle" >250</text>
<text transform="translate(311.66 201.00) scale(1 1.0)" font-size="15.4" fill="#000" stroke="#000" stroke-width="0" text-anchor="middle" >300</text>
<text transform="translate(353.40 201.00) scale(1 1.0)" font-size="15.4" fill="#000" stroke="#000" stroke-width="0" text-anchor="middle" >350</text>
<text transform="translate(207.70 216.00) scale(1 1.0)" font-size="16" fill="#000" stroke="#000" stroke-width="0" text-anchor="middle" textLength="37.6" lengthAdjust="spacingAndGlyphs">T (K)</text>
<text transform="translate(12.5 129.4) rotate(-90)" font-size="14" fill="#000" stroke="none" textLength="71" lengthAdjust="spacingAndGlyphs"><tspan class="ser" font-size="17">κ</tspan> (W/K m)</text>
<text transform="translate(74.80 39.00) scale(1 1.0)" font-size="16" fill="#000" stroke="#000" stroke-width="0" text-anchor="start" textLength="20.6" lengthAdjust="spacing">(a)</text>
<text transform="translate(105.30 29.80) scale(1 1.06)" font-size="16" fill="#1414f0" stroke="#1414f0" stroke-width="0.12" textLength="18.60" lengthAdjust="spacingAndGlyphs">Fe</text>
<text transform="translate(123.20 38.50) scale(1 1.0)" font-size="11.9" fill="#1414f0" stroke="#1414f0" stroke-width="0.12" textLength="6.70" lengthAdjust="spacingAndGlyphs">2</text>
<text transform="translate(130.00 29.80) scale(1 1.06)" font-size="16" fill="#1414f0" stroke="#1414f0" stroke-width="0.12" textLength="25.90" lengthAdjust="spacingAndGlyphs">VAl</text>
<text transform="translate(155.10 38.50) scale(1 1.0)" font-size="11.9" fill="#1414f0" stroke="#1414f0" stroke-width="0.12" textLength="22.90" lengthAdjust="spacingAndGlyphs">1.35</text>
<text transform="translate(104.80 57.30) scale(1 1.06)" font-size="16" fill="#ff0000" stroke="#ff0000" stroke-width="0.12" textLength="13.90" lengthAdjust="spacingAndGlyphs">Ni</text>
<text transform="translate(118.40 66.00) scale(1 1.0)" font-size="11.9" fill="#ff0000" stroke="#ff0000" stroke-width="0.12" textLength="6.70" lengthAdjust="spacingAndGlyphs">2</text>
<text transform="translate(125.30 57.30) scale(1 1.06)" font-size="16" fill="#ff0000" stroke="#ff0000" stroke-width="0.12" textLength="25.90" lengthAdjust="spacingAndGlyphs">VAl</text>
<text transform="translate(151.30 66.00) scale(1 1.0)" font-size="11.9" fill="#ff0000" stroke="#ff0000" stroke-width="0.12" textLength="22.50" lengthAdjust="spacingAndGlyphs">1.08</text>
<rect x="214.1" y="85.6" width="6.2" height="5.0" fill="none" stroke="#0000ff" stroke-width="0.7"/>
<text x="232.90" y="92.3" class="ser" fill="#1414f0" stroke="#1414f0" stroke-width="0.12" font-size="16.5">κ</text>
<path d="M206.1 105.2 L231.3 105.2" fill="none" stroke="#0000ff" stroke-width="1.5" stroke-dasharray="3.6 1.7"/>
<text x="232.60" y="110.0" class="ser" fill="#1414f0" stroke="#1414f0" stroke-width="0.12" font-size="16.5">κ</text>
<text x="241.30" y="118.3" fill="#1414f0" stroke="#1414f0" stroke-width="0.12" font-size="11">L</text>
<path d="M204.5 131.2 L231.3 131.2" fill="none" stroke="#0000ff" stroke-width="1.4"/>
<text x="233.70" y="133.6" class="ser" fill="#1414f0" stroke="#1414f0" stroke-width="0.12" font-size="16.5">κ</text>
<text x="242.20" y="142.0" fill="#1414f0" stroke="#1414f0" stroke-width="0.12" font-size="11">e</text>
<g fill="#ff0000"><circle cx="317.3" cy="25.2" r="3.3"/></g>
<text x="325.90" y="29.6" class="ser" fill="#ff0000" stroke="#ff0000" stroke-width="0.12" font-size="16.5">κ</text>
<path d="M292.5 63.3 L322.4 63.3" fill="none" stroke="#ff0000" stroke-width="1.4" stroke-dasharray="4.1 1.9"/>
<text x="326.70" y="66.5" class="ser" fill="#ff0000" stroke="#ff0000" stroke-width="0.12" font-size="16.5">κ</text>
<text x="333.90" y="74.6" fill="#ff0000" stroke="#ff0000" stroke-width="0.12" font-size="11">L</text>
<path d="M296.2 109.4 L324.3 109.4" fill="none" stroke="#ff0000" stroke-width="1.4"/>
<text x="328.70" y="113.6" class="ser" fill="#ff0000" stroke="#ff0000" stroke-width="0.12" font-size="16.5">κ</text>
<text x="336.20" y="122.3" fill="#ff0000" stroke="#ff0000" stroke-width="0.12" font-size="11">e</text>
<path d="M330.0 120.0 L330.0 153.5" fill="none" stroke="#ff0000" stroke-width="0.8"/>
<path d="M326.4 147.4 L330.0 154.3 L333.6 147.4" fill="none" stroke="#ff0000" stroke-width="0.9"/>
<path d="M61.60 397.35v4.6M61.60 221.9v-4.8M103.40 397.35v4.6M103.40 221.9v-4.8M145.20 397.35v4.6M145.20 221.9v-4.8M187.00 397.35v4.6M187.00 221.9v-4.8M228.80 397.35v4.6M228.80 221.9v-4.8M270.60 397.35v4.6M270.60 221.9v-4.8M312.40 397.35v4.6M312.40 221.9v-4.8M354.20 397.35v4.6M354.20 221.9v-4.8M61.6 362.26h-5.2M354.2 362.26h4.8M61.6 327.17h-5.2M354.2 327.17h4.8M61.6 292.08h-5.2M354.2 292.08h4.8M61.6 256.99h-5.2M354.2 256.99h4.8M61.6 390.33h-2.7M354.2 390.33h2.6M61.6 383.31h-2.7M354.2 383.31h2.6M61.6 376.30h-2.7M354.2 376.30h2.6M61.6 369.28h-2.7M354.2 369.28h2.6M61.6 355.24h-2.7M354.2 355.24h2.6M61.6 348.22h-2.7M354.2 348.22h2.6M61.6 341.21h-2.7M354.2 341.21h2.6M61.6 334.19h-2.7M354.2 334.19h2.6M61.6 320.15h-2.7M354.2 320.15h2.6M61.6 313.13h-2.7M354.2 313.13h2.6M61.6 306.12h-2.7M354.2 306.12h2.6M61.6 299.10h-2.7M354.2 299.10h2.6M61.6 285.06h-2.7M354.2 285.06h2.6M61.6 278.04h-2.7M354.2 278.04h2.6M61.6 271.03h-2.7M354.2 271.03h2.6M61.6 264.01h-2.7M354.2 264.01h2.6M61.6 249.97h-2.7M354.2 249.97h2.6M61.6 242.95h-2.7M354.2 242.95h2.6M61.6 235.94h-2.7M354.2 235.94h2.6M61.6 228.92h-2.7M354.2 228.92h2.6" fill="none" stroke="#5a5a5a" stroke-width="0.8"/>
<path d="M56.4 221.9H359.0" fill="none" stroke="#d6d6d6" stroke-width="1.6"/>
<path d="M56.4 397.35H359.0" fill="none" stroke="#666666" stroke-width="0.9"/>
<path d="M61.6 217.1V401.95000000000005" fill="none" stroke="#747474" stroke-width="0.9"/>
<path d="M354.2 217.1V401.95000000000005" fill="none" stroke="#8c8c8c" stroke-width="1.05"/>
<g fill="none" stroke="#1c1cff" stroke-width="0.5"><rect x="60.7" y="366.3" width="4.4" height="4.4"/><rect x="60.8" y="367.5" width="4.4" height="4.4"/><rect x="61.0" y="362.7" width="4.4" height="4.4"/><rect x="61.2" y="370.6" width="4.4" height="4.4"/><rect x="61.4" y="372.0" width="4.4" height="4.4"/><rect x="61.6" y="367.9" width="4.4" height="4.4"/><rect x="61.8" y="369.2" width="4.4" height="4.4"/><rect x="61.9" y="362.0" width="4.4" height="4.4"/><rect x="62.1" y="371.3" width="4.4" height="4.4"/><rect x="62.3" y="348.1" width="4.4" height="4.4"/><rect x="62.5" y="355.2" width="4.4" height="4.4"/><rect x="62.7" y="367.9" width="4.4" height="4.4"/><rect x="62.9" y="365.1" width="4.4" height="4.4"/><rect x="63.0" y="362.5" width="4.4" height="4.4"/><rect x="63.2" y="362.0" width="4.4" height="4.4"/><rect x="63.4" y="368.6" width="4.4" height="4.4"/><rect x="63.6" y="348.8" width="4.4" height="4.4"/><rect x="63.8" y="344.8" width="4.4" height="4.4"/><rect x="64.0" y="359.2" width="4.4" height="4.4"/><rect x="64.0" y="352.6" width="4.4" height="4.4"/><rect x="64.8" y="353.3" width="4.4" height="4.4"/><rect x="65.5" y="352.1" width="4.4" height="4.4"/><rect x="66.3" y="350.6" width="4.4" height="4.4"/><rect x="67.0" y="350.6" width="4.4" height="4.4"/><rect x="67.8" y="351.5" width="4.4" height="4.4"/><rect x="68.5" y="347.6" width="4.4" height="4.4"/><rect x="69.3" y="350.3" width="4.4" height="4.4"/><rect x="70.0" y="349.9" width="4.4" height="4.4"/><rect x="70.8" y="347.8" width="4.4" height="4.4"/><rect x="71.5" y="350.2" width="4.4" height="4.4"/><rect x="72.3" y="347.9" width="4.4" height="4.4"/><rect x="73.0" y="347.1" width="4.4" height="4.4"/><rect x="73.8" y="346.4" width="4.4" height="4.4"/><rect x="74.5" y="347.9" width="4.4" height="4.4"/><rect x="75.3" y="344.4" width="4.4" height="4.4"/><rect x="76.0" y="348.0" width="4.4" height="4.4"/><rect x="76.8" y="347.7" width="4.4" height="4.4"/><rect x="77.5" y="348.2" width="4.4" height="4.4"/><rect x="78.3" y="347.3" width="4.4" height="4.4"/><rect x="79.0" y="345.5" width="4.4" height="4.4"/><rect x="79.8" y="345.7" width="4.4" height="4.4"/><rect x="80.6" y="347.8" width="4.4" height="4.4"/><rect x="81.3" y="345.0" width="4.4" height="4.4"/><rect x="82.1" y="346.6" width="4.4" height="4.4"/><rect x="82.8" y="344.2" width="4.4" height="4.4"/><rect x="83.6" y="341.2" width="4.4" height="4.4"/><rect x="84.3" y="340.7" width="4.4" height="4.4"/><rect x="85.1" y="344.1" width="4.4" height="4.4"/><rect x="85.8" y="342.3" width="4.4" height="4.4"/><rect x="86.6" y="346.2" width="4.4" height="4.4"/><rect x="87.3" y="342.9" width="4.4" height="4.4"/><rect x="88.1" y="343.8" width="4.4" height="4.4"/><rect x="88.8" y="343.9" width="4.4" height="4.4"/><rect x="89.6" y="342.1" width="4.4" height="4.4"/><rect x="90.3" y="341.2" width="4.4" height="4.4"/><rect x="91.1" y="341.3" width="4.4" height="4.4"/><rect x="91.8" y="341.3" width="4.4" height="4.4"/><rect x="92.6" y="339.4" width="4.4" height="4.4"/><rect x="92.8" y="343.6" width="4.4" height="4.4"/><rect x="95.3" y="344.8" width="4.4" height="4.4"/><rect x="97.9" y="343.7" width="4.4" height="4.4"/><rect x="100.4" y="338.6" width="4.4" height="4.4"/><rect x="102.9" y="335.2" width="4.4" height="4.4"/><rect x="105.4" y="338.1" width="4.4" height="4.4"/><rect x="107.9" y="337.5" width="4.4" height="4.4"/><rect x="110.4" y="335.2" width="4.4" height="4.4"/><rect x="112.9" y="334.9" width="4.4" height="4.4"/><rect x="115.4" y="333.1" width="4.4" height="4.4"/><rect x="117.9" y="332.5" width="4.4" height="4.4"/><rect x="120.4" y="330.2" width="4.4" height="4.4"/><rect x="122.9" y="329.0" width="4.4" height="4.4"/><rect x="125.4" y="331.7" width="4.4" height="4.4"/><rect x="128.0" y="331.1" width="4.4" height="4.4"/><rect x="130.5" y="327.8" width="4.4" height="4.4"/><rect x="133.0" y="326.9" width="4.4" height="4.4"/><rect x="135.5" y="326.6" width="4.4" height="4.4"/><rect x="138.0" y="326.6" width="4.4" height="4.4"/><rect x="140.5" y="326.5" width="4.4" height="4.4"/><rect x="143.0" y="322.4" width="4.4" height="4.4"/><rect x="145.5" y="324.1" width="4.4" height="4.4"/><rect x="148.0" y="321.6" width="4.4" height="4.4"/><rect x="150.5" y="319.6" width="4.4" height="4.4"/><rect x="153.0" y="318.4" width="4.4" height="4.4"/><rect x="155.5" y="318.9" width="4.4" height="4.4"/><rect x="158.0" y="315.4" width="4.4" height="4.4"/></g>
<g fill="none" stroke="#1c1cff" stroke-width="0.55"><rect x="159.5" y="316.7" width="4.9" height="4.9"/><rect x="165.1" y="313.6" width="4.9" height="4.9"/><rect x="170.7" y="310.6" width="4.9" height="4.9"/><rect x="176.3" y="307.9" width="4.9" height="4.9"/><rect x="181.9" y="306.5" width="4.9" height="4.9"/><rect x="187.5" y="304.0" width="4.9" height="4.9"/><rect x="193.1" y="301.8" width="4.9" height="4.9"/><rect x="198.7" y="299.3" width="4.9" height="4.9"/><rect x="204.3" y="297.0" width="4.9" height="4.9"/><rect x="209.9" y="295.6" width="4.9" height="4.9"/><rect x="215.5" y="293.8" width="4.9" height="4.9"/><rect x="221.1" y="291.0" width="4.9" height="4.9"/><rect x="226.7" y="290.6" width="4.9" height="4.9"/><rect x="232.3" y="287.7" width="4.9" height="4.9"/><rect x="237.9" y="285.8" width="4.9" height="4.9"/><rect x="243.5" y="283.7" width="4.9" height="4.9"/><rect x="249.1" y="281.5" width="4.9" height="4.9"/><rect x="254.7" y="278.3" width="4.9" height="4.9"/><rect x="260.3" y="277.3" width="4.9" height="4.9"/><rect x="265.9" y="275.7" width="4.9" height="4.9"/><rect x="271.5" y="273.8" width="4.9" height="4.9"/><rect x="277.1" y="271.0" width="4.9" height="4.9"/><rect x="282.7" y="269.7" width="4.9" height="4.9"/><rect x="288.3" y="267.2" width="4.9" height="4.9"/><rect x="293.9" y="266.5" width="4.9" height="4.9"/><rect x="299.5" y="264.2" width="4.9" height="4.9"/><rect x="305.1" y="262.3" width="4.9" height="4.9"/><rect x="310.7" y="261.2" width="4.9" height="4.9"/><rect x="316.3" y="259.3" width="4.9" height="4.9"/><rect x="321.9" y="258.4" width="4.9" height="4.9"/><rect x="327.5" y="256.8" width="4.9" height="4.9"/></g>
<path d="M81.7 351.8 L84.2 350.7 L86.8 349.7 L89.3 348.6 L91.9 347.6 L94.4 346.6 L96.9 345.6 L99.5 344.6 L102.0 343.6 L104.6 342.6 L107.1 341.6 L109.7 340.6 L112.2 339.6 L114.8 338.6 L117.3 337.6 L119.9 336.5 L122.4 335.4 L125.0 334.4 L127.5 333.3 L130.1 332.2 L132.6 331.1 L135.1 330.0 L137.7 328.8 L140.2 327.7 L142.8 326.6 L145.3 325.4 L147.9 324.3 L150.4 323.2 L153.0 322.0 L155.5 320.9 L158.1 319.8 L160.6 318.7 L163.2 317.6 L165.7 316.5 L168.3 315.4 L170.8 314.3 L173.4 313.2 L175.9 312.2 L178.4 311.1 L181.0 310.1 L183.5 309.1 L186.1 308.1 L188.6 307.1 L191.2 306.1 L193.7 305.1 L196.3 304.1 L198.8 303.2 L201.4 302.2 L203.9 301.2 L206.5 300.3 L209.0 299.3 L211.6 298.4 L214.1 297.5 L216.6 296.5 L219.2 295.6 L221.7 294.7 L224.3 293.7 L226.8 292.8 L229.4 291.9 L231.9 291.0 L234.5 290.1 L237.0 289.2 L239.6 288.2 L242.1 287.3 L244.7 286.4 L247.2 285.5 L249.8 284.6 L252.3 283.6 L254.8 282.7 L257.4 281.8 L259.9 280.9 L262.5 279.9 L265.0 279.0 L267.6 278.1 L270.1 277.2 L272.7 276.3 L275.2 275.4 L277.8 274.5 L280.3 273.6 L282.9 272.8 L285.4 271.9 L288.0 271.1 L290.5 270.2 L293.1 269.4 L295.6 268.6 L298.1 267.8 L300.7 267.1 L303.2 266.3 L305.8 265.6 L308.3 264.9 L310.9 264.2 L313.4 263.5 L316.0 262.8 L318.5 262.1 L321.1 261.4 L323.6 260.8 L326.2 260.1 L328.7 259.4 L331.3 258.7 L333.8 258.0" fill="none" stroke="#e2000f" stroke-width="2.0"/>
<path d="M64.1 361.4 L65.6 361.3 L67.0 361.2 L68.5 361.1 L69.9 361.0 L71.4 360.9 L72.8 360.8 L74.3 360.7 L75.7 360.5 L77.2 360.3 L78.6 360.1 L80.1 359.8 L81.5 359.4 L83.0 359.1 L84.4 358.7 L85.9 358.3 L87.3 357.9 L88.8 357.6 L90.2 357.3 L91.7 357.0 L93.1 356.8 L94.6 356.5 L96.0 356.3 L97.5 356.1 L99.0 355.9 L100.4 355.8 L101.9 355.6 L103.3 355.4 L104.8 355.2 L106.2 355.1 L107.7 354.9 L109.1 354.7 L110.6 354.6 L112.0 354.4 L113.5 354.2 L114.9 354.0 L116.4 353.8 L117.8 353.6 L119.3 353.4 L120.7 353.2 L122.2 353.0 L123.6 352.8 L125.1 352.5 L126.5 352.3 L128.0 352.0 L129.4 351.8 L130.9 351.5 L132.3 351.2 L133.8 350.9 L135.2 350.6 L136.7 350.3 L138.2 350.0 L139.6 349.6 L141.1 349.3 L142.5 348.9 L144.0 348.5 L145.4 348.1 L146.9 347.7 L148.3 347.3 L149.8 347.0 L151.2 346.6 L152.7 346.3 L154.1 346.0 L155.6 345.7 L157.0 345.4 L158.5 345.2 L159.9 344.9 L161.4 344.7 L162.8 344.4 L164.3 344.1 L165.7 343.8 L167.2 343.4 L168.6 343.0 L170.1 342.6 L171.5 342.2 L173.0 341.7 L174.4 341.1 L175.9 340.6 L177.4 340.1 L178.8 339.5 L180.3 339.0 L181.7 338.5 L183.2 337.9 L184.6 337.3 L186.1 336.8 L187.5 336.2 L189.0 335.6 L190.4 335.0 L191.9 334.4 L193.3 333.9 L194.8 333.3 L196.2 332.7 L197.7 332.1 L199.1 331.6 L200.6 331.0 L202.0 330.5 L203.5 329.9 L204.9 329.3 L206.4 328.8 L207.8 328.2 L209.3 327.6 L210.7 327.0 L212.2 326.4 L213.7 325.8 L215.1 325.2 L216.6 324.6 L218.0 324.0 L219.5 323.4 L220.9 322.7 L222.4 322.1 L223.8 321.4 L225.3 320.8 L226.7 320.1 L228.2 319.4 L229.6 318.7 L231.1 318.0 L232.5 317.2 L234.0 316.5 L235.4 315.7 L236.9 314.9 L238.3 314.1 L239.8 313.3 L241.2 312.5 L242.7 311.7 L244.1 310.8 L245.6 310.0 L247.0 309.1 L248.5 308.3 L249.9 307.4 L251.4 306.5 L252.9 305.7 L254.3 304.8 L255.8 303.9 L257.2 303.1 L258.7 302.3 L260.1 301.4 L261.6 300.6 L263.0 299.8 L264.5 299.0 L265.9 298.1 L267.4 297.3 L268.8 296.4 L270.3 295.6 L271.7 294.7 L273.2 293.8 L274.6 292.9 L276.1 292.0 L277.5 291.0 L279.0 290.0 L280.4 289.1 L281.9 288.0 L283.3 287.0 L284.8 286.0 L286.2 284.9 L287.7 283.9 L289.1 282.8 L290.6 281.7 L292.1 280.6 L293.5 279.5 L295.0 278.3 L296.4 277.2 L297.9 276.0 L299.3 274.8 L300.8 273.6 L302.2 272.4 L303.7 271.2 L305.1 269.9 L306.6 268.6 L308.0 267.3 L309.5 265.9 L310.9 264.6 L312.4 263.2 L313.8 261.9 L315.3 260.6 L316.7 259.3 L318.2 258.0 L319.6 256.7 L321.1 255.4 L322.5 254.2 L324.0 252.9 L325.4 251.6 L326.9 250.3 L328.3 249.0 L329.8 247.7 L331.3 246.3 L332.7 244.9 L334.2 243.5 L335.6 242.1 L337.1 240.6 L338.5 239.1 L340.0 237.5 L341.4 236.0 L342.9 234.5 L344.3 233.1 L345.8 231.7 L347.2 230.4 L348.7 229.1 L350.1 228.0 L351.6 226.9 L353.0 225.8" fill="none" stroke="#008000" stroke-width="2.1"/>
<g fill="#ff0000"><circle cx="67.7" cy="366.6" r="2.5"/><circle cx="70.3" cy="362.0" r="2.5"/><circle cx="67.9" cy="358.7" r="2.5"/><circle cx="70.3" cy="361.2" r="2.5"/><circle cx="70.4" cy="360.1" r="2.5"/><circle cx="68.3" cy="359.9" r="2.5"/><circle cx="65.5" cy="361.2" r="2.5"/><circle cx="66.4" cy="368.9" r="2.5"/><circle cx="69.7" cy="364.3" r="2.5"/><circle cx="68.0" cy="356.2" r="2.5"/><circle cx="68.4" cy="362.4" r="2.5"/><circle cx="68.2" cy="359.2" r="2.5"/><circle cx="69.6" cy="365.1" r="2.5"/><circle cx="68.4" cy="363.3" r="2.5"/><circle cx="66.9" cy="355.4" r="2.5"/><circle cx="68.2" cy="359.1" r="2.5"/><circle cx="69.5" cy="354.9" r="2.5"/><circle cx="67.8" cy="358.2" r="2.5"/><circle cx="68.2" cy="359.9" r="2.5"/><circle cx="69.2" cy="360.8" r="2.5"/><circle cx="68.3" cy="360.4" r="2.5"/><circle cx="70.5" cy="357.6" r="2.5"/><circle cx="70.1" cy="354.6" r="2.5"/><circle cx="66.8" cy="359.1" r="2.5"/><circle cx="70.5" cy="355.9" r="2.5"/><circle cx="66.2" cy="366.8" r="2.5"/><circle cx="67.8" cy="367.7" r="2.5"/><circle cx="66.7" cy="367.6" r="2.5"/><circle cx="69.0" cy="356.6" r="2.5"/><circle cx="70.2" cy="364.5" r="2.5"/><circle cx="69.3" cy="358.1" r="2.5"/><circle cx="66.2" cy="353.4" r="2.5"/><circle cx="70.6" cy="363.7" r="2.5"/><circle cx="70.5" cy="361.4" r="2.5"/><circle cx="68.1" cy="351.6" r="2.5"/><circle cx="69.9" cy="364.4" r="2.5"/><circle cx="67.8" cy="359.9" r="2.5"/><circle cx="67.3" cy="365.5" r="2.5"/><circle cx="67.1" cy="356.3" r="2.5"/><circle cx="65.5" cy="359.2" r="2.5"/><circle cx="67.8" cy="368.6" r="2.5"/><circle cx="67.2" cy="358.0" r="2.5"/><circle cx="68.2" cy="367.8" r="2.5"/><circle cx="70.7" cy="356.5" r="2.5"/><circle cx="70.6" cy="365.1" r="2.5"/><circle cx="66.9" cy="368.2" r="2.5"/><circle cx="69.6" cy="363.1" r="2.5"/><circle cx="66.1" cy="361.5" r="2.5"/><circle cx="70.3" cy="356.1" r="2.5"/><circle cx="66.8" cy="366.3" r="2.5"/><circle cx="70.4" cy="359.3" r="2.5"/><circle cx="69.2" cy="365.3" r="2.5"/><circle cx="65.8" cy="356.9" r="2.5"/><circle cx="67.7" cy="367.7" r="2.5"/><circle cx="70.5" cy="358.5" r="2.5"/><circle cx="69.7" cy="365.4" r="2.5"/><circle cx="70.0" cy="365.6" r="2.5"/><circle cx="70.1" cy="360.7" r="2.5"/><circle cx="67.3" cy="359.2" r="2.5"/><circle cx="70.4" cy="363.1" r="2.5"/><circle cx="66.1" cy="359.7" r="2.5"/><circle cx="66.7" cy="367.0" r="2.5"/><circle cx="66.3" cy="368.0" r="2.5"/><circle cx="66.5" cy="363.5" r="2.5"/><circle cx="67.1" cy="355.6" r="2.5"/><circle cx="67.0" cy="360.2" r="2.5"/><circle cx="66.4" cy="362.8" r="2.5"/><circle cx="65.5" cy="364.5" r="2.5"/><circle cx="65.5" cy="356.1" r="2.5"/><circle cx="68.4" cy="364.1" r="2.5"/><circle cx="70.0" cy="366.4" r="2.5"/><circle cx="70.6" cy="360.0" r="2.5"/><circle cx="71.3" cy="357.5" r="2.5"/><circle cx="72.0" cy="358.2" r="2.5"/><circle cx="72.6" cy="363.1" r="2.5"/><circle cx="73.3" cy="359.6" r="2.5"/><circle cx="74.0" cy="359.5" r="2.5"/><circle cx="74.6" cy="362.5" r="2.5"/><circle cx="75.3" cy="363.9" r="2.5"/><circle cx="76.0" cy="360.6" r="2.5"/><circle cx="76.6" cy="358.4" r="2.5"/><circle cx="77.3" cy="360.4" r="2.5"/><circle cx="78.0" cy="358.4" r="2.5"/><circle cx="78.7" cy="362.7" r="2.5"/><circle cx="79.3" cy="361.1" r="2.5"/><circle cx="80.0" cy="361.1" r="2.5"/><circle cx="80.7" cy="359.8" r="2.5"/><circle cx="81.3" cy="358.8" r="2.5"/><circle cx="82.0" cy="358.6" r="2.5"/><circle cx="82.7" cy="358.5" r="2.5"/><circle cx="83.3" cy="359.0" r="2.5"/><circle cx="84.0" cy="360.2" r="2.5"/><circle cx="84.7" cy="358.2" r="2.5"/><circle cx="85.3" cy="357.8" r="2.5"/><circle cx="86.0" cy="356.3" r="2.5"/><circle cx="86.7" cy="361.2" r="2.5"/><circle cx="87.3" cy="358.7" r="2.5"/><circle cx="88.0" cy="359.1" r="2.5"/><circle cx="88.7" cy="357.6" r="2.5"/><circle cx="89.4" cy="356.1" r="2.5"/><circle cx="90.0" cy="358.4" r="2.5"/><circle cx="90.7" cy="357.0" r="2.5"/><circle cx="91.4" cy="358.3" r="2.5"/><circle cx="92.0" cy="356.6" r="2.5"/><circle cx="92.7" cy="352.7" r="2.5"/><circle cx="93.4" cy="357.8" r="2.5"/><circle cx="94.0" cy="357.8" r="2.5"/><circle cx="94.7" cy="357.0" r="2.5"/><circle cx="95.4" cy="355.3" r="2.5"/><circle cx="96.0" cy="356.7" r="2.5"/><circle cx="96.7" cy="356.4" r="2.5"/><circle cx="97.4" cy="356.2" r="2.5"/><circle cx="98.0" cy="357.4" r="2.5"/><circle cx="98.7" cy="355.0" r="2.5"/><circle cx="99.4" cy="356.9" r="2.5"/><circle cx="100.1" cy="355.9" r="2.5"/><circle cx="100.7" cy="356.0" r="2.5"/><circle cx="101.4" cy="355.8" r="2.5"/><circle cx="102.1" cy="355.7" r="2.5"/><circle cx="102.7" cy="355.0" r="2.5"/><circle cx="103.4" cy="355.8" r="2.5"/><circle cx="104.1" cy="355.2" r="2.5"/><circle cx="104.7" cy="354.3" r="2.5"/><circle cx="105.4" cy="355.1" r="2.5"/><circle cx="106.1" cy="355.0" r="2.5"/><circle cx="106.7" cy="353.5" r="2.5"/><circle cx="107.4" cy="356.8" r="2.5"/><circle cx="108.1" cy="355.2" r="2.5"/><circle cx="108.8" cy="355.7" r="2.5"/><circle cx="109.4" cy="356.1" r="2.5"/><circle cx="110.1" cy="353.9" r="2.5"/><circle cx="110.8" cy="355.2" r="2.5"/><circle cx="111.4" cy="355.7" r="2.5"/><circle cx="112.1" cy="351.9" r="2.5"/><circle cx="112.8" cy="353.4" r="2.5"/><circle cx="113.4" cy="353.0" r="2.5"/><circle cx="114.1" cy="354.2" r="2.5"/><circle cx="114.8" cy="354.2" r="2.5"/><circle cx="115.4" cy="353.0" r="2.5"/><circle cx="116.1" cy="355.3" r="2.5"/><circle cx="116.8" cy="354.6" r="2.5"/><circle cx="117.4" cy="354.5" r="2.5"/><circle cx="118.1" cy="353.4" r="2.5"/><circle cx="118.8" cy="353.8" r="2.5"/><circle cx="119.5" cy="354.2" r="2.5"/><circle cx="120.1" cy="353.4" r="2.5"/><circle cx="120.8" cy="352.5" r="2.5"/><circle cx="121.5" cy="354.0" r="2.5"/><circle cx="122.1" cy="352.5" r="2.5"/><circle cx="122.8" cy="353.5" r="2.5"/><circle cx="123.5" cy="352.0" r="2.5"/><circle cx="124.1" cy="353.1" r="2.5"/><circle cx="124.8" cy="352.6" r="2.5"/><circle cx="125.5" cy="352.7" r="2.5"/><circle cx="126.1" cy="351.9" r="2.5"/><circle cx="126.8" cy="352.0" r="2.5"/><circle cx="127.5" cy="352.1" r="2.5"/><circle cx="128.1" cy="351.7" r="2.5"/><circle cx="128.5" cy="351.6" r="2.5"/><circle cx="129.6" cy="352.0" r="2.5"/><circle cx="130.7" cy="351.7" r="2.5"/><circle cx="131.7" cy="351.6" r="2.5"/><circle cx="132.8" cy="351.2" r="2.5"/><circle cx="133.9" cy="351.2" r="2.5"/><circle cx="135.0" cy="350.0" r="2.5"/><circle cx="136.1" cy="350.4" r="2.5"/><circle cx="137.2" cy="350.2" r="2.5"/><circle cx="138.3" cy="350.3" r="2.5"/><circle cx="139.3" cy="350.1" r="2.5"/><circle cx="140.4" cy="349.5" r="2.5"/><circle cx="141.5" cy="348.5" r="2.5"/><circle cx="142.6" cy="348.6" r="2.5"/><circle cx="143.7" cy="348.5" r="2.5"/><circle cx="144.8" cy="348.1" r="2.5"/><circle cx="145.9" cy="348.0" r="2.5"/><circle cx="147.0" cy="347.2" r="2.5"/><circle cx="148.0" cy="347.3" r="2.5"/><circle cx="149.1" cy="346.6" r="2.5"/><circle cx="150.2" cy="346.5" r="2.5"/><circle cx="151.3" cy="346.7" r="2.5"/><circle cx="152.4" cy="346.7" r="2.5"/><circle cx="153.5" cy="345.9" r="2.5"/><circle cx="154.6" cy="346.2" r="2.5"/><circle cx="155.6" cy="346.3" r="2.5"/><circle cx="156.7" cy="345.9" r="2.5"/><circle cx="157.8" cy="345.6" r="2.5"/><circle cx="158.9" cy="344.9" r="2.5"/><circle cx="160.0" cy="344.8" r="2.5"/><circle cx="161.1" cy="344.7" r="2.5"/><circle cx="162.2" cy="343.9" r="2.5"/><circle cx="163.3" cy="344.4" r="2.5"/><circle cx="164.3" cy="343.6" r="2.5"/><circle cx="165.4" cy="343.7" r="2.5"/><circle cx="166.5" cy="343.6" r="2.5"/><circle cx="167.6" cy="343.4" r="2.5"/><circle cx="168.7" cy="342.5" r="2.5"/><circle cx="169.8" cy="342.9" r="2.5"/><circle cx="170.9" cy="342.8" r="2.5"/><circle cx="172.0" cy="342.0" r="2.5"/><circle cx="173.0" cy="341.1" r="2.5"/><circle cx="174.1" cy="341.5" r="2.5"/><circle cx="175.2" cy="340.7" r="2.5"/><circle cx="176.3" cy="339.8" r="2.5"/><circle cx="177.4" cy="339.5" r="2.5"/><circle cx="178.5" cy="339.3" r="2.5"/><circle cx="179.6" cy="338.3" r="2.5"/><circle cx="180.6" cy="338.8" r="2.5"/><circle cx="181.7" cy="338.4" r="2.5"/><circle cx="182.8" cy="338.5" r="2.5"/><circle cx="183.9" cy="337.3" r="2.5"/><circle cx="185.0" cy="336.6" r="2.5"/><circle cx="186.1" cy="336.6" r="2.5"/><circle cx="187.2" cy="336.1" r="2.5"/><circle cx="188.3" cy="335.4" r="2.5"/><circle cx="189.3" cy="334.9" r="2.5"/><circle cx="190.4" cy="334.8" r="2.5"/><circle cx="191.5" cy="334.5" r="2.5"/><circle cx="192.6" cy="334.0" r="2.5"/><circle cx="193.7" cy="334.3" r="2.5"/><circle cx="194.8" cy="333.1" r="2.5"/><circle cx="195.9" cy="332.1" r="2.5"/><circle cx="196.9" cy="331.7" r="2.5"/><circle cx="198.0" cy="332.6" r="2.5"/><circle cx="199.1" cy="331.5" r="2.5"/><circle cx="200.2" cy="331.2" r="2.5"/><circle cx="201.3" cy="331.0" r="2.5"/><circle cx="202.4" cy="330.0" r="2.5"/><circle cx="203.5" cy="330.2" r="2.5"/><circle cx="204.6" cy="329.5" r="2.5"/><circle cx="205.6" cy="329.0" r="2.5"/><circle cx="206.7" cy="328.9" r="2.5"/><circle cx="207.8" cy="328.0" r="2.5"/><circle cx="208.9" cy="327.6" r="2.5"/><circle cx="210.0" cy="326.9" r="2.5"/><circle cx="211.1" cy="326.7" r="2.5"/><circle cx="212.2" cy="325.8" r="2.5"/><circle cx="213.3" cy="325.5" r="2.5"/><circle cx="214.3" cy="325.0" r="2.5"/><circle cx="215.4" cy="324.4" r="2.5"/><circle cx="216.5" cy="324.6" r="2.5"/><circle cx="217.6" cy="322.8" r="2.5"/><circle cx="218.7" cy="322.2" r="2.5"/><circle cx="219.8" cy="322.4" r="2.5"/><circle cx="220.9" cy="322.5" r="2.5"/><circle cx="221.9" cy="321.4" r="2.5"/><circle cx="223.0" cy="320.6" r="2.5"/><circle cx="224.1" cy="321.5" r="2.5"/><circle cx="225.2" cy="319.3" r="2.5"/><circle cx="226.3" cy="319.9" r="2.5"/><circle cx="227.4" cy="319.4" r="2.5"/><circle cx="228.5" cy="318.9" r="2.5"/><circle cx="229.6" cy="317.9" r="2.5"/><circle cx="230.6" cy="317.2" r="2.5"/><circle cx="231.7" cy="316.7" r="2.5"/><circle cx="232.8" cy="315.9" r="2.5"/><circle cx="233.9" cy="315.7" r="2.5"/><circle cx="235.0" cy="314.5" r="2.5"/><circle cx="236.1" cy="314.2" r="2.5"/><circle cx="237.2" cy="313.5" r="2.5"/><circle cx="238.2" cy="312.4" r="2.5"/><circle cx="239.3" cy="312.0" r="2.5"/><circle cx="239.7" cy="311.3" r="2.5"/><circle cx="241.3" cy="309.3" r="2.5"/><circle cx="242.8" cy="309.8" r="2.5"/><circle cx="244.4" cy="307.7" r="2.5"/><circle cx="246.0" cy="307.6" r="2.5"/><circle cx="247.6" cy="304.0" r="2.5"/><circle cx="249.2" cy="304.9" r="2.5"/><circle cx="250.8" cy="303.8" r="2.5"/><circle cx="252.4" cy="301.7" r="2.5"/><circle cx="254.0" cy="299.0" r="2.5"/><circle cx="255.6" cy="298.4" r="2.5"/><circle cx="257.1" cy="298.7" r="2.5"/><circle cx="258.7" cy="296.0" r="2.5"/><circle cx="260.3" cy="295.5" r="2.5"/><circle cx="261.9" cy="294.4" r="2.5"/><circle cx="263.5" cy="291.2" r="2.5"/><circle cx="265.1" cy="291.1" r="2.5"/><circle cx="266.7" cy="289.8" r="2.5"/><circle cx="273.0" cy="285.4" r="2.5"/><circle cx="274.6" cy="285.3" r="2.5"/><circle cx="276.2" cy="283.3" r="2.5"/><circle cx="277.8" cy="282.9" r="2.5"/><circle cx="279.4" cy="283.7" r="2.5"/><circle cx="281.0" cy="280.8" r="2.5"/><circle cx="285.7" cy="276.6" r="2.5"/><circle cx="287.3" cy="276.8" r="2.5"/><circle cx="288.9" cy="274.5" r="2.5"/><circle cx="290.5" cy="274.6" r="2.5"/><circle cx="292.1" cy="272.8" r="2.5"/><circle cx="293.7" cy="271.7" r="2.5"/><circle cx="295.3" cy="270.4" r="2.5"/><circle cx="296.9" cy="269.0" r="2.5"/><circle cx="298.4" cy="268.9" r="2.5"/><circle cx="300.0" cy="266.9" r="2.5"/><circle cx="300.9" cy="266.5" r="2.5"/><circle cx="305.7" cy="264.0" r="2.5"/><circle cx="311.3" cy="259.1" r="2.5"/><circle cx="314.5" cy="257.3" r="2.5"/><circle cx="317.8" cy="255.2" r="2.5"/><circle cx="320.9" cy="253.5" r="2.5"/><circle cx="324.9" cy="249.6" r="2.5"/><circle cx="329.8" cy="247.9" r="2.5"/><circle cx="331.4" cy="246.3" r="2.5"/><circle cx="334.6" cy="243.1" r="2.5"/><circle cx="337.1" cy="242.3" r="2.5"/><circle cx="340.2" cy="239.1" r="2.5"/><circle cx="342.7" cy="239.1" r="2.5"/><circle cx="345.8" cy="235.9" r="2.5"/><circle cx="349.5" cy="231.4" r="2.5"/><circle cx="353.0" cy="226.6" r="2.5"/><circle cx="66.1" cy="344.1" r="2.5"/><circle cx="66.1" cy="382.6" r="2.5"/></g>
<text transform="translate(48.90 400.05) scale(1 1.0)" font-size="15.8" fill="#000" stroke="#000" stroke-width="0" text-anchor="end" >-10</text>
<text transform="translate(48.90 364.96) scale(1 1.0)" font-size="15.8" fill="#000" stroke="#000" stroke-width="0" text-anchor="end" >0</text>
<text transform="translate(48.90 329.87) scale(1 1.0)" font-size="15.8" fill="#000" stroke="#000" stroke-width="0" text-anchor="end" >10</text>
<text transform="translate(48.90 294.78) scale(1 1.0)" font-size="15.8" fill="#000" stroke="#000" stroke-width="0" text-anchor="end" >20</text>
<text transform="translate(48.90 259.69) scale(1 1.0)" font-size="15.8" fill="#000" stroke="#000" stroke-width="0" text-anchor="end" >30</text>
<text transform="translate(48.90 224.60) scale(1 1.0)" font-size="15.8" fill="#000" stroke="#000" stroke-width="0" text-anchor="end" >40</text>
<text transform="translate(62.00 418.20) scale(1 1.0)" font-size="15.8" fill="#000" stroke="#000" stroke-width="0" text-anchor="middle" >0</text>
<text transform="translate(103.80 418.20) scale(1 1.0)" font-size="15.8" fill="#000" stroke="#000" stroke-width="0" text-anchor="middle" >50</text>
<text transform="translate(145.60 418.20) scale(1 1.0)" font-size="15.8" fill="#000" stroke="#000" stroke-width="0" text-anchor="middle" >100</text>
<text transform="translate(187.40 418.20) scale(1 1.0)" font-size="15.8" fill="#000" stroke="#000" stroke-width="0" text-anchor="middle" >150</text>
<text transform="translate(229.20 418.20) scale(1 1.0)" font-size="15.8" fill="#000" stroke="#000" stroke-width="0" text-anchor="middle" >200</text>
<text transform="translate(271.00 418.20) scale(1 1.0)" font-size="15.8" fill="#000" stroke="#000" stroke-width="0" text-anchor="middle" >250</text>
<text transform="translate(312.80 418.20) scale(1 1.0)" font-size="15.8" fill="#000" stroke="#000" stroke-width="0" text-anchor="middle" >300</text>
<text transform="translate(354.60 418.20) scale(1 1.0)" font-size="15.8" fill="#000" stroke="#000" stroke-width="0" text-anchor="middle" >350</text>
<text transform="translate(208.00 433.20) scale(1 1.0)" font-size="16" fill="#000" stroke="#000" stroke-width="0" text-anchor="middle" textLength="37.6" lengthAdjust="spacingAndGlyphs">T (K)</text>
<text transform="translate(12.3 337.2) rotate(-90)" font-size="14.5" fill="#000" stroke="none" textLength="60.3" lengthAdjust="spacingAndGlyphs">S (μV/K)</text>
<text transform="translate(77.20 252.80) scale(1 1.0)" font-size="16" fill="#000" stroke="#000" stroke-width="0" text-anchor="start" textLength="20.6" lengthAdjust="spacing">(b)</text>
<path d="M237.2 339.6 L266.0 339.6" fill="none" stroke="#e2000f" stroke-width="1.4"/>
<g fill="none" stroke="#0000ff" stroke-width="0.55"><rect x="249.4" y="337.2" width="4.8" height="4.8"/></g>
<text transform="translate(268.30 345.90) scale(1 1.06)" font-size="16" fill="#1414f0" stroke="#1414f0" stroke-width="0.12" textLength="18.60" lengthAdjust="spacingAndGlyphs">Fe</text>
<text transform="translate(286.20 354.60) scale(1 1.0)" font-size="11.9" fill="#1414f0" stroke="#1414f0" stroke-width="0.12" textLength="6.70" lengthAdjust="spacingAndGlyphs">2</text>
<text transform="translate(293.00 345.90) scale(1 1.06)" font-size="16" fill="#1414f0" stroke="#1414f0" stroke-width="0.12" textLength="25.90" lengthAdjust="spacingAndGlyphs">VAl</text>
<text transform="translate(318.10 354.60) scale(1 1.0)" font-size="11.9" fill="#1414f0" stroke="#1414f0" stroke-width="0.12" textLength="22.90" lengthAdjust="spacingAndGlyphs">1.35</text>
<path d="M237.2 366.0 L266.0 366.0" fill="none" stroke="#008000" stroke-width="1.6"/>
<g fill="#ff0000"><circle cx="251.8" cy="366.0" r="2.5"/></g>
<text transform="translate(268.30 371.90) scale(1 1.06)" font-size="16" fill="#ff0000" stroke="#ff0000" stroke-width="0.12" textLength="13.90" lengthAdjust="spacingAndGlyphs">Ni</text>
<text transform="translate(281.90 380.60) scale(1 1.0)" font-size="11.9" fill="#ff0000" stroke="#ff0000" stroke-width="0.12" textLength="6.70" lengthAdjust="spacingAndGlyphs">2</text>
<text transform="translate(288.80 371.90) scale(1 1.06)" font-size="16" fill="#ff0000" stroke="#ff0000" stroke-width="0.12" textLength="25.90" lengthAdjust="spacingAndGlyphs">VAl</text>
<text transform="translate(314.80 380.60) scale(1 1.0)" font-size="11.9" fill="#ff0000" stroke="#ff0000" stroke-width="0.12" textLength="22.50" lengthAdjust="spacingAndGlyphs">1.08</text>
<path d="M64.50 616.4v4.6M64.50 441.6v-4.8M106.21 616.4v4.6M106.21 441.6v-4.8M147.93 616.4v4.6M147.93 441.6v-4.8M189.64 616.4v4.6M189.64 441.6v-4.8M231.36 616.4v4.6M231.36 441.6v-4.8M273.07 616.4v4.6M273.07 441.6v-4.8M314.79 616.4v4.6M314.79 441.6v-4.8M356.50 616.4v4.6M356.50 441.6v-4.8M64.5 572.70h-5.2M356.5 572.70h4.8M64.5 529.00h-5.2M356.5 529.00h4.8M64.5 485.30h-5.2M356.5 485.30h4.8M64.5 594.55h-2.7M356.5 594.55h2.6M64.5 550.85h-2.7M356.5 550.85h2.6M64.5 507.15h-2.7M356.5 507.15h2.6M64.5 463.45h-2.7M356.5 463.45h2.6" fill="none" stroke="#5a5a5a" stroke-width="0.8"/>
<path d="M59.3 441.6H361.3" fill="none" stroke="#a0a0a0" stroke-width="1.2"/>
<path d="M59.3 616.4H361.3" fill="none" stroke="#8c8c8c" stroke-width="1.0"/>
<path d="M64.5 436.8V621.0" fill="none" stroke="#808080" stroke-width="1.1"/>
<path d="M356.5 436.8V621.0" fill="none" stroke="#8c8c8c" stroke-width="1.2"/>
<path d="M64.7 616.4 L65.0 616.4 L65.3 616.4 L65.7 616.4 L66.0 616.4 L66.3 616.4 L67.0 616.4 L72.3 616.2 L77.5 616.0 L82.8 615.8 L88.0 615.5 L93.3 615.2 L98.5 614.9 L103.8 614.6 L109.1 614.3 L114.3 614.0 L119.6 613.7 L124.8 613.3 L130.0 613.0 L136.6 612.4 L142.2 611.5 L147.8 611.1 L153.4 610.5 L159.0 610.2 L164.6 609.0 L170.3 607.2 L176.0 605.0 L180.5 603.0 L185.2 600.8 L190.0 598.5 L194.6 596.0 L200.5 593.9 L204.7 592.1 L209.1 589.7 L213.2 587.8 L216.9 586.9 L221.6 584.1 L225.9 581.3 L230.0 579.4 L233.8 576.6 L238.4 575.8 L243.1 571.0 L247.8 567.3 L252.0 564.2 L256.2 558.9 L260.9 555.5 L264.6 550.9 L268.5 548.2 L272.6 545.6 L276.6 540.4 L280.6 532.3 L284.6 524.8 L288.6 521.1 L292.6 513.1 L296.9 505.2 L301.1 497.6 L304.6 492.0 L308.2 484.3 L313.0 472.2 L317.0 467.8 L321.5 463.0 L326.3 451.3 L330.6 444.9" fill="none" stroke="#0000ff" stroke-width="1.5" stroke-linejoin="round"/>
<g fill="none" stroke="#3c3cff" stroke-width="0.5"><rect x="62.4" y="614.1" width="4.5" height="4.5"/><rect x="62.8" y="614.1" width="4.5" height="4.5"/><rect x="63.1" y="614.1" width="4.5" height="4.5"/><rect x="63.4" y="614.1" width="4.5" height="4.5"/><rect x="63.8" y="614.1" width="4.5" height="4.5"/><rect x="64.1" y="614.1" width="4.5" height="4.5"/><rect x="64.8" y="614.1" width="4.5" height="4.5"/><rect x="70.0" y="613.9" width="4.5" height="4.5"/><rect x="75.3" y="613.7" width="4.5" height="4.5"/><rect x="80.5" y="613.5" width="4.5" height="4.5"/><rect x="85.8" y="613.2" width="4.5" height="4.5"/><rect x="91.0" y="613.0" width="4.5" height="4.5"/><rect x="96.3" y="612.7" width="4.5" height="4.5"/><rect x="101.5" y="612.4" width="4.5" height="4.5"/><rect x="106.8" y="612.1" width="4.5" height="4.5"/><rect x="112.1" y="611.8" width="4.5" height="4.5"/><rect x="117.3" y="611.4" width="4.5" height="4.5"/><rect x="122.6" y="611.1" width="4.5" height="4.5"/><rect x="127.7" y="610.7" width="4.5" height="4.5"/><rect x="134.3" y="610.2" width="4.5" height="4.5"/><rect x="139.9" y="609.3" width="4.5" height="4.5"/><rect x="145.6" y="608.9" width="4.5" height="4.5"/><rect x="151.2" y="608.3" width="4.5" height="4.5"/><rect x="156.8" y="608.0" width="4.5" height="4.5"/><rect x="162.4" y="606.8" width="4.5" height="4.5"/><rect x="168.0" y="605.0" width="4.5" height="4.5"/><rect x="173.7" y="602.7" width="4.5" height="4.5"/><rect x="178.3" y="600.8" width="4.5" height="4.5"/><rect x="183.0" y="598.6" width="4.5" height="4.5"/><rect x="187.7" y="596.2" width="4.5" height="4.5"/><rect x="192.4" y="593.7" width="4.5" height="4.5"/><rect x="198.2" y="591.6" width="4.5" height="4.5"/><rect x="202.5" y="589.9" width="4.5" height="4.5"/><rect x="206.8" y="587.4" width="4.5" height="4.5"/><rect x="210.9" y="585.6" width="4.5" height="4.5"/><rect x="214.7" y="584.7" width="4.5" height="4.5"/><rect x="219.3" y="581.9" width="4.5" height="4.5"/><rect x="223.6" y="579.1" width="4.5" height="4.5"/><rect x="227.8" y="577.2" width="4.5" height="4.5"/><rect x="231.5" y="574.4" width="4.5" height="4.5"/><rect x="236.2" y="573.5" width="4.5" height="4.5"/><rect x="240.9" y="568.8" width="4.5" height="4.5"/><rect x="245.5" y="565.0" width="4.5" height="4.5"/><rect x="249.8" y="561.9" width="4.5" height="4.5"/><rect x="254.0" y="556.6" width="4.5" height="4.5"/><rect x="258.6" y="553.3" width="4.5" height="4.5"/><rect x="262.4" y="548.6" width="4.5" height="4.5"/><rect x="266.2" y="546.0" width="4.5" height="4.5"/><rect x="270.3" y="543.4" width="4.5" height="4.5"/><rect x="274.3" y="538.1" width="4.5" height="4.5"/><rect x="278.3" y="530.0" width="4.5" height="4.5"/><rect x="282.3" y="522.6" width="4.5" height="4.5"/><rect x="286.3" y="518.9" width="4.5" height="4.5"/><rect x="290.3" y="510.9" width="4.5" height="4.5"/><rect x="294.7" y="502.9" width="4.5" height="4.5"/><rect x="298.9" y="495.4" width="4.5" height="4.5"/><rect x="302.4" y="489.8" width="4.5" height="4.5"/><rect x="305.9" y="482.0" width="4.5" height="4.5"/><rect x="310.7" y="469.9" width="4.5" height="4.5"/><rect x="314.7" y="465.6" width="4.5" height="4.5"/><rect x="319.2" y="460.8" width="4.5" height="4.5"/><rect x="324.0" y="449.1" width="4.5" height="4.5"/><rect x="328.3" y="442.6" width="4.5" height="4.5"/></g>
<g fill="none" stroke="#0000ff" stroke-width="0.9"><rect x="62.4" y="614.2" width="4.4" height="4.4"/><rect x="62.6" y="614.2" width="4.4" height="4.4"/><rect x="62.9" y="614.2" width="4.4" height="4.4"/><rect x="63.1" y="614.2" width="4.4" height="4.4"/><rect x="63.4" y="614.2" width="4.4" height="4.4"/><rect x="63.6" y="614.2" width="4.4" height="4.4"/><rect x="63.9" y="614.2" width="4.4" height="4.4"/><rect x="64.1" y="614.2" width="4.4" height="4.4"/><rect x="64.4" y="614.2" width="4.4" height="4.4"/></g>
<path d="M68.0 616.2 L69.3 616.2 L70.5 616.2 L71.8 616.2 L73.0 616.2 L74.3 616.1 L75.5 616.1 L76.8 616.1 L78.0 616.1 L79.3 616.1 L80.5 616.1 L81.8 616.1 L83.0 616.1 L84.3 616.1 L85.5 616.1 L86.8 616.1 L88.0 616.1 L89.3 616.1 L90.5 616.1 L91.8 616.1 L93.0 616.1 L94.3 616.1 L95.5 616.1 L96.8 616.0 L98.0 616.0 L99.3 616.0 L100.5 616.0 L101.8 616.0 L103.0 616.0 L104.3 616.0 L105.5 616.0 L106.8 616.0 L108.0 616.0 L109.3 616.0 L110.6 615.9 L111.8 615.9 L113.1 615.9 L114.3 615.9 L115.6 615.9 L116.8 615.8 L118.1 615.8 L119.3 615.8 L120.6 615.8 L121.8 615.7 L123.1 615.7 L124.3 615.7 L125.6 615.7 L126.8 615.7 L128.1 615.6 L129.3 615.6 L130.6 615.6 L131.8 615.5 L133.1 615.5 L134.3 615.4 L135.6 615.3 L136.8 615.3 L138.1 615.2 L139.3 615.1 L140.6 615.1 L141.8 615.0 L143.1 614.9 L144.3 614.9 L145.6 614.8 L146.8 614.8 L148.1 614.7 L149.3 614.6 L150.6 614.6 L151.8 614.5 L153.1 614.4 L154.4 614.4 L155.6 614.3 L156.9 614.3 L158.1 614.2 L159.4 614.2 L160.6 614.1 L161.9 614.0 L163.1 614.0 L164.4 613.9 L165.6 613.9 L166.9 613.8 L168.1 613.7 L169.4 613.6 L170.6 613.5 L171.9 613.4 L173.1 613.2 L174.4 613.1 L175.6 613.0 L176.9 612.9 L178.1 612.8 L179.4 612.7 L180.6 612.5 L181.9 612.4 L183.1 612.3 L184.4 612.2 L185.6 612.1 L186.9 611.9 L188.1 611.8 L189.4 611.7 L190.6 611.5 L191.9 611.4 L193.1 611.3 L194.4 611.1 L195.6 611.0 L196.9 610.8 L198.2 610.7 L199.4 610.6 L200.7 610.4 L201.9 610.3 L203.2 610.2 L204.4 610.1 L205.7 610.0 L206.9 609.9 L208.2 609.7 L209.4 609.6 L210.7 609.5 L211.9 609.3 L213.2 609.1 L214.4 608.9 L215.7 608.7 L216.9 608.6 L218.2 608.4 L219.4 608.3 L220.7 608.1 L221.9 608.0 L223.2 607.9 L224.4 607.8 L225.7 607.7 L226.9 607.6 L228.2 607.4 L229.4 607.2 L230.7 606.9 L231.9 606.7 L233.2 606.4 L234.4 606.1 L235.7 605.9 L236.9 605.6 L238.2 605.3 L239.4 605.0 L240.7 604.6 L242.0 604.2 L243.2 603.8 L244.5 603.5 L245.7 603.1 L247.0 602.7 L248.2 602.4 L249.5 602.0 L250.7 601.6 L252.0 601.2 L253.2 600.9 L254.5 600.5 L255.7 600.1 L256.4 599.9 L258.4 598.9 L260.4 597.8 L262.4 596.5 L264.4 595.2 L266.4 594.0 L268.4 593.0 L270.4 592.0 L272.4 591.2 L276.4 589.6 L278.4 588.9 L280.4 588.4 L282.4 587.8 L284.4 586.8 L286.4 585.8 L288.4 584.7 L290.4 583.6 L292.4 582.5 L294.4 581.1 L296.4 579.8 L298.4 578.4 L300.4 577.2 L302.4 575.9 L304.4 575.0 L306.4 574.0 L308.4 572.0 L310.4 569.6 L310.9 569.2 L314.1 567.2 L318.9 564.4 L322.1 562.3 L325.3 559.9 L327.7 558.3 L331.0 556.7 L333.8 554.3 L336.6 551.6 L339.0 549.5 L341.4 546.3 L344.6 544.3 L347.8 539.5 L351.5 532.4 L355.3 524.4" fill="none" stroke="#ff0000" stroke-width="1.0"/>
<path d="M283.5 587.6 L284.4 580.3 L285.6 586.2" fill="none" stroke="#ff0000" stroke-width="1.0"/>
<g fill="#ff0000"><circle cx="68.0" cy="616.2" r="2.55"/><circle cx="69.3" cy="616.2" r="2.55"/><circle cx="70.5" cy="616.2" r="2.55"/><circle cx="71.8" cy="616.2" r="2.55"/><circle cx="73.0" cy="616.2" r="2.55"/><circle cx="74.3" cy="616.1" r="2.55"/><circle cx="75.5" cy="616.1" r="2.55"/><circle cx="76.8" cy="616.1" r="2.55"/><circle cx="78.0" cy="616.1" r="2.55"/><circle cx="79.3" cy="616.1" r="2.55"/><circle cx="80.5" cy="616.1" r="2.55"/><circle cx="81.8" cy="616.1" r="2.55"/><circle cx="83.0" cy="616.1" r="2.55"/><circle cx="84.3" cy="616.1" r="2.55"/><circle cx="85.5" cy="616.1" r="2.55"/><circle cx="86.8" cy="616.1" r="2.55"/><circle cx="88.0" cy="616.1" r="2.55"/><circle cx="89.3" cy="616.1" r="2.55"/><circle cx="90.5" cy="616.1" r="2.55"/><circle cx="91.8" cy="616.1" r="2.55"/><circle cx="93.0" cy="616.1" r="2.55"/><circle cx="94.3" cy="616.1" r="2.55"/><circle cx="95.5" cy="616.1" r="2.55"/><circle cx="96.8" cy="616.0" r="2.55"/><circle cx="98.0" cy="616.0" r="2.55"/><circle cx="99.3" cy="616.0" r="2.55"/><circle cx="100.5" cy="616.0" r="2.55"/><circle cx="101.8" cy="616.0" r="2.55"/><circle cx="103.0" cy="616.0" r="2.55"/><circle cx="104.3" cy="616.0" r="2.55"/><circle cx="105.5" cy="616.0" r="2.55"/><circle cx="106.8" cy="616.0" r="2.55"/><circle cx="108.0" cy="616.0" r="2.55"/><circle cx="109.3" cy="616.0" r="2.55"/><circle cx="110.6" cy="615.9" r="2.55"/><circle cx="111.8" cy="615.9" r="2.55"/><circle cx="113.1" cy="615.9" r="2.55"/><circle cx="114.3" cy="615.9" r="2.55"/><circle cx="115.6" cy="615.9" r="2.55"/><circle cx="116.8" cy="615.8" r="2.55"/><circle cx="118.1" cy="615.8" r="2.55"/><circle cx="119.3" cy="615.8" r="2.55"/><circle cx="120.6" cy="615.8" r="2.55"/><circle cx="121.8" cy="615.7" r="2.55"/><circle cx="123.1" cy="615.7" r="2.55"/><circle cx="124.3" cy="615.7" r="2.55"/><circle cx="125.6" cy="615.7" r="2.55"/><circle cx="126.8" cy="615.7" r="2.55"/><circle cx="128.1" cy="615.6" r="2.55"/><circle cx="129.3" cy="615.6" r="2.55"/><circle cx="130.6" cy="615.6" r="2.55"/><circle cx="131.8" cy="615.5" r="2.55"/><circle cx="133.1" cy="615.5" r="2.55"/><circle cx="134.3" cy="615.4" r="2.55"/><circle cx="135.6" cy="615.3" r="2.55"/><circle cx="136.8" cy="615.3" r="2.55"/><circle cx="138.1" cy="615.2" r="2.55"/><circle cx="139.3" cy="615.1" r="2.55"/><circle cx="140.6" cy="615.1" r="2.55"/><circle cx="141.8" cy="615.0" r="2.55"/><circle cx="143.1" cy="614.9" r="2.55"/><circle cx="144.3" cy="614.9" r="2.55"/><circle cx="145.6" cy="614.8" r="2.55"/><circle cx="146.8" cy="614.8" r="2.55"/><circle cx="148.1" cy="614.7" r="2.55"/><circle cx="149.3" cy="614.6" r="2.55"/><circle cx="150.6" cy="614.6" r="2.55"/><circle cx="151.8" cy="614.5" r="2.55"/><circle cx="153.1" cy="614.4" r="2.55"/><circle cx="154.4" cy="614.4" r="2.55"/><circle cx="155.6" cy="614.3" r="2.55"/><circle cx="156.9" cy="614.3" r="2.55"/><circle cx="158.1" cy="614.2" r="2.55"/><circle cx="159.4" cy="614.2" r="2.55"/><circle cx="160.6" cy="614.1" r="2.55"/><circle cx="161.9" cy="614.0" r="2.55"/><circle cx="163.1" cy="614.0" r="2.55"/><circle cx="164.4" cy="613.9" r="2.55"/><circle cx="165.6" cy="613.9" r="2.55"/><circle cx="166.9" cy="613.8" r="2.55"/><circle cx="168.1" cy="613.7" r="2.55"/><circle cx="169.4" cy="613.6" r="2.55"/><circle cx="170.6" cy="613.5" r="2.55"/><circle cx="171.9" cy="613.4" r="2.55"/><circle cx="173.1" cy="613.2" r="2.55"/><circle cx="174.4" cy="613.1" r="2.55"/><circle cx="175.6" cy="613.0" r="2.55"/><circle cx="176.9" cy="612.9" r="2.55"/><circle cx="178.1" cy="612.8" r="2.55"/><circle cx="179.4" cy="612.7" r="2.55"/><circle cx="180.6" cy="612.5" r="2.55"/><circle cx="181.9" cy="612.4" r="2.55"/><circle cx="183.1" cy="612.3" r="2.55"/><circle cx="184.4" cy="612.2" r="2.55"/><circle cx="185.6" cy="612.1" r="2.55"/><circle cx="186.9" cy="611.9" r="2.55"/><circle cx="188.1" cy="611.8" r="2.55"/><circle cx="189.4" cy="611.7" r="2.55"/><circle cx="190.6" cy="611.5" r="2.55"/><circle cx="191.9" cy="611.4" r="2.55"/><circle cx="193.1" cy="611.3" r="2.55"/><circle cx="194.4" cy="611.1" r="2.55"/><circle cx="195.6" cy="611.0" r="2.55"/><circle cx="196.9" cy="610.8" r="2.55"/><circle cx="198.2" cy="610.7" r="2.55"/><circle cx="199.4" cy="610.6" r="2.55"/><circle cx="200.7" cy="610.4" r="2.55"/><circle cx="201.9" cy="610.3" r="2.55"/><circle cx="203.2" cy="610.2" r="2.55"/><circle cx="204.4" cy="610.1" r="2.55"/><circle cx="205.7" cy="610.0" r="2.55"/><circle cx="206.9" cy="609.9" r="2.55"/><circle cx="208.2" cy="609.7" r="2.55"/><circle cx="209.4" cy="609.6" r="2.55"/><circle cx="210.7" cy="609.5" r="2.55"/><circle cx="211.9" cy="609.3" r="2.55"/><circle cx="213.2" cy="609.1" r="2.55"/><circle cx="214.4" cy="608.9" r="2.55"/><circle cx="215.7" cy="608.7" r="2.55"/><circle cx="216.9" cy="608.6" r="2.55"/><circle cx="218.2" cy="608.4" r="2.55"/><circle cx="219.4" cy="608.3" r="2.55"/><circle cx="220.7" cy="608.1" r="2.55"/><circle cx="221.9" cy="608.0" r="2.55"/><circle cx="223.2" cy="607.9" r="2.55"/><circle cx="224.4" cy="607.8" r="2.55"/><circle cx="225.7" cy="607.7" r="2.55"/><circle cx="226.9" cy="607.6" r="2.55"/><circle cx="228.2" cy="607.4" r="2.55"/><circle cx="229.4" cy="607.2" r="2.55"/><circle cx="230.7" cy="606.9" r="2.55"/><circle cx="231.9" cy="606.7" r="2.55"/><circle cx="233.2" cy="606.4" r="2.55"/><circle cx="234.4" cy="606.1" r="2.55"/><circle cx="235.7" cy="605.9" r="2.55"/><circle cx="236.9" cy="605.6" r="2.55"/><circle cx="238.2" cy="605.3" r="2.55"/><circle cx="239.4" cy="605.0" r="2.55"/><circle cx="240.7" cy="604.6" r="2.55"/><circle cx="242.0" cy="604.2" r="2.55"/><circle cx="243.2" cy="603.8" r="2.55"/><circle cx="244.5" cy="603.5" r="2.55"/><circle cx="245.7" cy="603.1" r="2.55"/><circle cx="247.0" cy="602.7" r="2.55"/><circle cx="248.2" cy="602.4" r="2.55"/><circle cx="249.5" cy="602.0" r="2.55"/><circle cx="250.7" cy="601.6" r="2.55"/><circle cx="252.0" cy="601.2" r="2.55"/><circle cx="253.2" cy="600.9" r="2.55"/><circle cx="254.5" cy="600.5" r="2.55"/><circle cx="255.7" cy="600.1" r="2.55"/><circle cx="256.4" cy="599.9" r="2.55"/><circle cx="258.4" cy="598.9" r="2.55"/><circle cx="260.4" cy="597.8" r="2.55"/><circle cx="262.4" cy="596.5" r="2.55"/><circle cx="264.4" cy="595.2" r="2.55"/><circle cx="266.4" cy="594.0" r="2.55"/><circle cx="268.4" cy="593.0" r="2.55"/><circle cx="270.4" cy="592.0" r="2.55"/><circle cx="272.4" cy="591.2" r="2.55"/><circle cx="276.4" cy="589.6" r="2.55"/><circle cx="278.4" cy="588.9" r="2.55"/><circle cx="280.4" cy="588.4" r="2.55"/><circle cx="282.4" cy="587.8" r="2.55"/><circle cx="284.4" cy="586.8" r="2.55"/><circle cx="286.4" cy="585.8" r="2.55"/><circle cx="288.4" cy="584.7" r="2.55"/><circle cx="290.4" cy="583.6" r="2.55"/><circle cx="292.4" cy="582.5" r="2.55"/><circle cx="294.4" cy="581.1" r="2.55"/><circle cx="296.4" cy="579.8" r="2.55"/><circle cx="298.4" cy="578.4" r="2.55"/><circle cx="300.4" cy="577.2" r="2.55"/><circle cx="302.4" cy="575.9" r="2.55"/><circle cx="304.4" cy="575.0" r="2.55"/><circle cx="306.4" cy="574.0" r="2.55"/><circle cx="308.4" cy="572.0" r="2.55"/><circle cx="310.4" cy="569.6" r="2.55"/><circle cx="310.9" cy="569.2" r="2.55"/><circle cx="314.1" cy="567.2" r="2.55"/><circle cx="318.9" cy="564.4" r="2.55"/><circle cx="322.1" cy="562.3" r="2.55"/><circle cx="325.3" cy="559.9" r="2.55"/><circle cx="327.7" cy="558.3" r="2.55"/><circle cx="331.0" cy="556.7" r="2.55"/><circle cx="333.8" cy="554.3" r="2.55"/><circle cx="336.6" cy="551.6" r="2.55"/><circle cx="339.0" cy="549.5" r="2.55"/><circle cx="341.4" cy="546.3" r="2.55"/><circle cx="344.6" cy="544.3" r="2.55"/><circle cx="347.8" cy="539.5" r="2.55"/><circle cx="351.5" cy="532.4" r="2.55"/><circle cx="355.3" cy="524.4" r="2.55"/><circle cx="68.7" cy="611.8" r="2.55"/><circle cx="284.4" cy="580.3" r="2.55"/></g>
<text transform="translate(53.90 624.30) scale(1 1.0)" font-size="16.0" fill="#000" stroke="#000" stroke-width="0" text-anchor="end" >0</text>
<text transform="translate(53.90 580.60) scale(1 1.0)" font-size="16.0" fill="#000" stroke="#000" stroke-width="0" text-anchor="end" >0.01</text>
<text transform="translate(53.90 536.90) scale(1 1.0)" font-size="16.0" fill="#000" stroke="#000" stroke-width="0" text-anchor="end" >0.02</text>
<text transform="translate(53.90 493.20) scale(1 1.0)" font-size="16.0" fill="#000" stroke="#000" stroke-width="0" text-anchor="end" >0.03</text>
<text transform="translate(53.90 449.50) scale(1 1.0)" font-size="16.0" fill="#000" stroke="#000" stroke-width="0" text-anchor="end" >0.04</text>
<text transform="translate(69.70 638.90) scale(1 1.0)" font-size="15.8" fill="#000" stroke="#000" stroke-width="0" text-anchor="middle" >0</text>
<text transform="translate(111.41 638.90) scale(1 1.0)" font-size="15.8" fill="#000" stroke="#000" stroke-width="0" text-anchor="middle" >50</text>
<text transform="translate(153.13 638.90) scale(1 1.0)" font-size="15.8" fill="#000" stroke="#000" stroke-width="0" text-anchor="middle" >100</text>
<text transform="translate(194.84 638.90) scale(1 1.0)" font-size="15.8" fill="#000" stroke="#000" stroke-width="0" text-anchor="middle" >150</text>
<text transform="translate(236.56 638.90) scale(1 1.0)" font-size="15.8" fill="#000" stroke="#000" stroke-width="0" text-anchor="middle" >200</text>
<text transform="translate(278.27 638.90) scale(1 1.0)" font-size="15.8" fill="#000" stroke="#000" stroke-width="0" text-anchor="middle" >250</text>
<text transform="translate(319.99 638.90) scale(1 1.0)" font-size="15.8" fill="#000" stroke="#000" stroke-width="0" text-anchor="middle" >300</text>
<text transform="translate(361.70 638.90) scale(1 1.0)" font-size="15.8" fill="#000" stroke="#000" stroke-width="0" text-anchor="middle" >350</text>
<text transform="translate(212.10 656.60) scale(1 1.0)" font-size="16" fill="#000" stroke="#000" stroke-width="0" text-anchor="middle" textLength="37.6" lengthAdjust="spacingAndGlyphs">T (K)</text>
<text transform="translate(14.1 540.3) rotate(-90)" font-size="16.3" fill="#000" stroke="none" textLength="19.0" lengthAdjust="spacingAndGlyphs">ZT</text>
<text transform="translate(83.40 467.10) scale(1 1.0)" font-size="16" fill="#000" stroke="#000" stroke-width="0" text-anchor="start" textLength="20.0" lengthAdjust="spacing">(c)</text>
<path d="M155.4 473.2 L185.0 473.2" fill="none" stroke="#0000ff" stroke-width="1.3"/>
<g fill="none" stroke="#3c3cff" stroke-width="0.5"><rect x="167.6" y="470.8" width="4.8" height="4.8"/></g>
<text transform="translate(187.20 479.10) scale(1 1.06)" font-size="16" fill="#1414f0" stroke="#1414f0" stroke-width="0.12" textLength="18.60" lengthAdjust="spacingAndGlyphs">Fe</text>
<text transform="translate(205.10 487.80) scale(1 1.0)" font-size="11.9" fill="#1414f0" stroke="#1414f0" stroke-width="0.12" textLength="6.70" lengthAdjust="spacingAndGlyphs">2</text>
<text transform="translate(211.90 479.10) scale(1 1.06)" font-size="16" fill="#1414f0" stroke="#1414f0" stroke-width="0.12" textLength="25.90" lengthAdjust="spacingAndGlyphs">VAl</text>
<text transform="translate(237.00 487.80) scale(1 1.0)" font-size="11.9" fill="#1414f0" stroke="#1414f0" stroke-width="0.12" textLength="22.90" lengthAdjust="spacingAndGlyphs">1.35</text>
<path d="M155.4 505.9 L185.0 505.9" fill="none" stroke="#ff0000" stroke-width="1.2"/>
<g fill="#ff0000"><circle cx="170.0" cy="505.9" r="2.5"/></g>
<text transform="translate(187.20 512.80) scale(1 1.06)" font-size="16" fill="#ff0000" stroke="#ff0000" stroke-width="0.12" textLength="13.90" lengthAdjust="spacingAndGlyphs">Ni</text>
<text transform="translate(200.80 521.50) scale(1 1.0)" font-size="11.9" fill="#ff0000" stroke="#ff0000" stroke-width="0.12" textLength="6.70" lengthAdjust="spacingAndGlyphs">2</text>
<text transform="translate(207.70 512.80) scale(1 1.06)" font-size="16" fill="#ff0000" stroke="#ff0000" stroke-width="0.12" textLength="25.90" lengthAdjust="spacingAndGlyphs">VAl</text>
<text transform="translate(233.70 521.50) scale(1 1.0)" font-size="11.9" fill="#ff0000" stroke="#ff0000" stroke-width="0.12" textLength="22.50" lengthAdjust="spacingAndGlyphs">1.08</text>
</svg></body></html>
